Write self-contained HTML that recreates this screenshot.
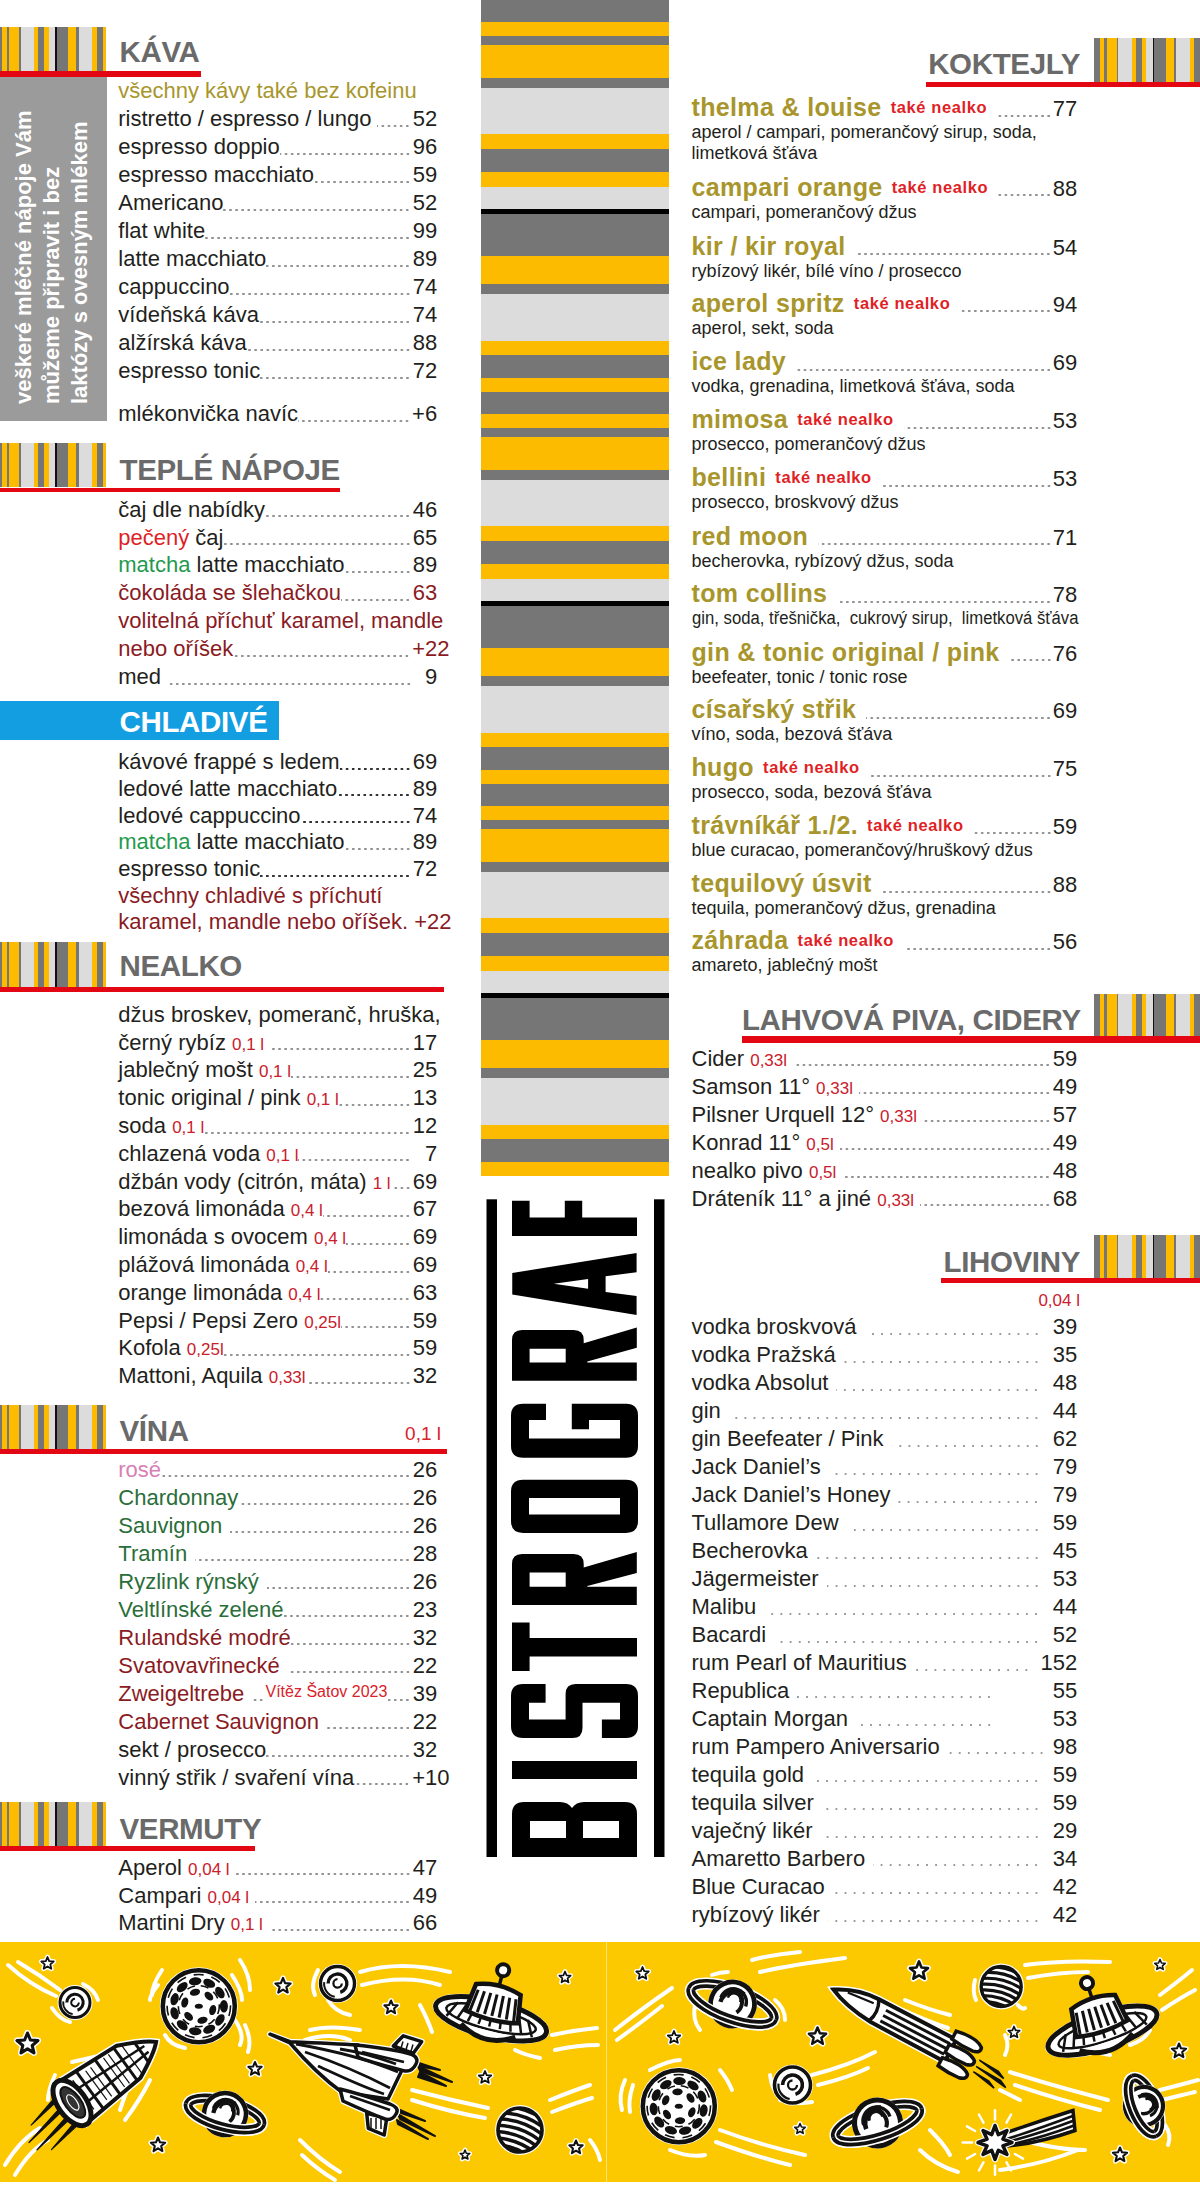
<!DOCTYPE html><html><head><meta charset="utf-8"><style>
html,body{margin:0;padding:0;background:#fff}
body{width:1200px;height:2186px;position:relative;overflow:hidden;font-family:"Liberation Sans",sans-serif;color:#231f20}
.t{position:absolute;white-space:nowrap}
.r{position:absolute;display:flex;white-space:nowrap}
.r>span.d{flex:1 1 auto}
</style></head><body>
<div style="position:absolute;left:0px;top:27.30px;width:106.30px;height:44.00px;background:linear-gradient(90deg,#767676 0.00px 2.30px,#fdbb00 2.30px 6.90px,#767676 6.90px 9.20px,#fdbb00 9.20px 18.80px,#767676 18.80px 20.90px,#dcdcdc 20.90px 34.40px,#fdbb00 34.40px 38.50px,#767676 38.50px 44.50px,#fdbb00 44.50px 49.00px,#dcdcdc 49.00px 55.00px,#111 55.00px 56.80px,#767676 56.80px 68.30px,#fdbb00 68.30px 76.50px,#767676 76.50px 78.80px,#dcdcdc 78.80px 92.10px,#fdbb00 92.10px 96.70px,#767676 96.70px 102.70px,#fdbb00 102.70px 106.30px)"></div>
<div style="position:absolute;left:0.00px;top:71.30px;width:201.00px;height:5.50px;background:#e30613;"></div>
<div class="t" style="left:119.50px;top:34.88px;font-size:29.5px;line-height:34px;color:#6a6a6a;font-weight:bold;letter-spacing:-0.35px;">KÁVA</div>
<div style="position:absolute;left:0.00px;top:76.80px;width:106.50px;height:343.80px;background:#9b9b9b;"></div>
<div style="position:absolute;left:32.10px;top:404.2px;width:0;height:0"><div style="position:absolute;left:0;top:0;transform:rotate(-90deg);transform-origin:0 0"><div class="t" style="left:0;top:-21.62px;font-size:22px;line-height:28px;color:#fff;font-weight:bold">veškeré mléčné nápoje Vám</div></div></div>
<div style="position:absolute;left:60.00px;top:404.2px;width:0;height:0"><div style="position:absolute;left:0;top:0;transform:rotate(-90deg);transform-origin:0 0"><div class="t" style="left:0;top:-21.62px;font-size:22px;line-height:28px;color:#fff;font-weight:bold">můžeme připravit i bez</div></div></div>
<div style="position:absolute;left:88.00px;top:404.2px;width:0;height:0"><div style="position:absolute;left:0;top:0;transform:rotate(-90deg);transform-origin:0 0"><div class="t" style="left:0;top:-21.62px;font-size:22px;line-height:28px;color:#fff;font-weight:bold">laktózy s ovesným mlékem</div></div></div>
<div class="t" style="left:118.30px;top:76.68px;font-size:22px;line-height:28px;color:#a8962c;">všechny kávy také bez kofeinu</div>
<div class="r" style="left:118.30px;top:104.98px;width:318.90px;height:28px;line-height:28px;font-size:22px;"><span style="color:#231f20;">ristretto / espresso / lungo</span><span class="d" style="background-image:radial-gradient(circle at center,#8c8c8c 0.95px,transparent 1.30px);background-size:6.1px 4px;background-repeat:repeat-x;background-position:right 0 top 18.62px;margin-left:6px;margin-right:2px"></span><span style="color:#231f20;">52</span></div>
<div class="r" style="left:118.30px;top:132.98px;width:318.90px;height:28px;line-height:28px;font-size:22px;"><span style="color:#231f20;">espresso doppio</span><span class="d" style="background-image:radial-gradient(circle at center,#8c8c8c 0.95px,transparent 1.30px);background-size:6.1px 4px;background-repeat:repeat-x;background-position:right 0 top 18.62px;margin-left:0px;margin-right:2px"></span><span style="color:#231f20;">96</span></div>
<div class="r" style="left:118.30px;top:160.98px;width:318.90px;height:28px;line-height:28px;font-size:22px;"><span style="color:#231f20;">espresso macchiato</span><span class="d" style="background-image:radial-gradient(circle at center,#8c8c8c 0.95px,transparent 1.30px);background-size:6.1px 4px;background-repeat:repeat-x;background-position:right 0 top 18.62px;margin-left:0px;margin-right:2px"></span><span style="color:#231f20;">59</span></div>
<div class="r" style="left:118.30px;top:188.98px;width:318.90px;height:28px;line-height:28px;font-size:22px;"><span style="color:#231f20;">Americano</span><span class="d" style="background-image:radial-gradient(circle at center,#8c8c8c 0.95px,transparent 1.30px);background-size:6.1px 4px;background-repeat:repeat-x;background-position:right 0 top 18.62px;margin-left:0px;margin-right:2px"></span><span style="color:#231f20;">52</span></div>
<div class="r" style="left:118.30px;top:216.98px;width:318.90px;height:28px;line-height:28px;font-size:22px;"><span style="color:#231f20;">flat white</span><span class="d" style="background-image:radial-gradient(circle at center,#8c8c8c 0.95px,transparent 1.30px);background-size:6.1px 4px;background-repeat:repeat-x;background-position:right 0 top 18.62px;margin-left:0px;margin-right:2px"></span><span style="color:#231f20;">99</span></div>
<div class="r" style="left:118.30px;top:244.98px;width:318.90px;height:28px;line-height:28px;font-size:22px;"><span style="color:#231f20;">latte macchiato</span><span class="d" style="background-image:radial-gradient(circle at center,#8c8c8c 0.95px,transparent 1.30px);background-size:6.1px 4px;background-repeat:repeat-x;background-position:right 0 top 18.62px;margin-left:0px;margin-right:2px"></span><span style="color:#231f20;">89</span></div>
<div class="r" style="left:118.30px;top:272.98px;width:318.90px;height:28px;line-height:28px;font-size:22px;"><span style="color:#231f20;">cappuccino</span><span class="d" style="background-image:radial-gradient(circle at center,#8c8c8c 0.95px,transparent 1.30px);background-size:6.1px 4px;background-repeat:repeat-x;background-position:right 0 top 18.62px;margin-left:0px;margin-right:2px"></span><span style="color:#231f20;">74</span></div>
<div class="r" style="left:118.30px;top:300.98px;width:318.90px;height:28px;line-height:28px;font-size:22px;"><span style="color:#231f20;">vídeňská káva</span><span class="d" style="background-image:radial-gradient(circle at center,#8c8c8c 0.95px,transparent 1.30px);background-size:6.1px 4px;background-repeat:repeat-x;background-position:right 0 top 18.62px;margin-left:0px;margin-right:2px"></span><span style="color:#231f20;">74</span></div>
<div class="r" style="left:118.30px;top:328.98px;width:318.90px;height:28px;line-height:28px;font-size:22px;"><span style="color:#231f20;">alžírská káva</span><span class="d" style="background-image:radial-gradient(circle at center,#8c8c8c 0.95px,transparent 1.30px);background-size:6.1px 4px;background-repeat:repeat-x;background-position:right 0 top 18.62px;margin-left:0px;margin-right:2px"></span><span style="color:#231f20;">88</span></div>
<div class="r" style="left:118.30px;top:356.98px;width:318.90px;height:28px;line-height:28px;font-size:22px;"><span style="color:#231f20;">espresso tonic</span><span class="d" style="background-image:radial-gradient(circle at center,#8c8c8c 0.95px,transparent 1.30px);background-size:6.1px 4px;background-repeat:repeat-x;background-position:right 0 top 18.62px;margin-left:0px;margin-right:2px"></span><span style="color:#231f20;">72</span></div>
<div class="r" style="left:118.30px;top:400.08px;width:318.90px;height:28px;line-height:28px;font-size:22px;"><span style="color:#231f20;">mlékonvička navíc</span><span class="d" style="background-image:radial-gradient(circle at center,#8c8c8c 0.95px,transparent 1.30px);background-size:6.1px 4px;background-repeat:repeat-x;background-position:right 0 top 18.62px;margin-left:0px;margin-right:2px"></span><span style="color:#231f20;">+6</span></div>
<div style="position:absolute;left:0px;top:443.40px;width:106.30px;height:44.10px;background:linear-gradient(90deg,#767676 0.00px 2.30px,#fdbb00 2.30px 6.90px,#767676 6.90px 9.20px,#fdbb00 9.20px 18.80px,#767676 18.80px 20.90px,#dcdcdc 20.90px 34.40px,#fdbb00 34.40px 38.50px,#767676 38.50px 44.50px,#fdbb00 44.50px 49.00px,#dcdcdc 49.00px 55.00px,#111 55.00px 56.80px,#767676 56.80px 68.30px,#fdbb00 68.30px 76.50px,#767676 76.50px 78.80px,#dcdcdc 78.80px 92.10px,#fdbb00 92.10px 96.70px,#767676 96.70px 102.70px,#fdbb00 102.70px 106.30px)"></div>
<div style="position:absolute;left:0.00px;top:487.50px;width:340.00px;height:4.70px;background:#e30613;"></div>
<div class="t" style="left:119.50px;top:453.38px;font-size:29.5px;line-height:34px;color:#6a6a6a;font-weight:bold;letter-spacing:-0.35px;">TEPLÉ NÁPOJE</div>
<div class="r" style="left:118.30px;top:495.58px;width:318.90px;height:28px;line-height:28px;font-size:22px;"><span style="color:#231f20;">čaj dle nabídky</span><span class="d" style="background-image:radial-gradient(circle at center,#8c8c8c 0.95px,transparent 1.30px);background-size:6.1px 4px;background-repeat:repeat-x;background-position:right 0 top 18.62px;margin-left:0px;margin-right:2px"></span><span style="color:#231f20;">46</span></div>
<div class="r" style="left:118.30px;top:523.51px;width:318.90px;height:28px;line-height:28px;font-size:22px;"><span style="color:#231f20;"><span style="color:#e01f26">pečený</span> čaj</span><span class="d" style="background-image:radial-gradient(circle at center,#8c8c8c 0.95px,transparent 1.30px);background-size:6.1px 4px;background-repeat:repeat-x;background-position:right 0 top 18.62px;margin-left:0px;margin-right:2px"></span><span style="color:#231f20;">65</span></div>
<div class="r" style="left:118.30px;top:551.44px;width:318.90px;height:28px;line-height:28px;font-size:22px;"><span style="color:#231f20;"><span style="color:#1f9a4e">matcha</span> latte macchiato</span><span class="d" style="background-image:radial-gradient(circle at center,#8c8c8c 0.95px,transparent 1.30px);background-size:6.1px 4px;background-repeat:repeat-x;background-position:right 0 top 18.62px;margin-left:0px;margin-right:2px"></span><span style="color:#231f20;">89</span></div>
<div class="r" style="left:118.30px;top:579.37px;width:318.90px;height:28px;line-height:28px;font-size:22px;"><span style="color:#8a1b1f;">čokoláda se šlehačkou</span><span class="d" style="background-image:radial-gradient(circle at center,#8c8c8c 0.95px,transparent 1.30px);background-size:6.1px 4px;background-repeat:repeat-x;background-position:right 0 top 18.62px;margin-left:0px;margin-right:2px"></span><span style="color:#8a1b1f;">63</span></div>
<div class="t" style="left:118.30px;top:607.30px;font-size:22px;line-height:28px;color:#8a1b1f;">volitelná příchuť karamel, mandle</div>
<div class="r" style="left:118.30px;top:635.23px;width:331.20px;height:28px;line-height:28px;font-size:22px;"><span style="color:#8a1b1f;">nebo oříšek</span><span class="d" style="background-image:radial-gradient(circle at center,#8c8c8c 0.95px,transparent 1.30px);background-size:6.1px 4px;background-repeat:repeat-x;background-position:right 0 top 18.62px;margin-left:0px;margin-right:2px"></span><span style="color:#8a1b1f;">+22</span></div>
<div class="r" style="left:118.30px;top:663.16px;width:318.90px;height:28px;line-height:28px;font-size:22px;"><span style="color:#231f20;">med</span><span class="d" style="background-image:radial-gradient(circle at center,#8c8c8c 0.95px,transparent 1.30px);background-size:6.1px 4px;background-repeat:repeat-x;background-position:right 0 top 18.62px;margin-left:8px;margin-right:13px"></span><span style="color:#231f20;">9</span></div>
<div style="position:absolute;left:0.00px;top:701.40px;width:279.00px;height:39.10px;background:#139ee2;"></div>
<div class="t" style="left:119.50px;top:705.28px;font-size:29.5px;line-height:34px;color:#fff;font-weight:bold;letter-spacing:-0.35px;">CHLADIVÉ</div>
<div class="r" style="left:118.30px;top:748.08px;width:318.90px;height:28px;line-height:28px;font-size:22px;"><span style="color:#231f20;">kávové frappé s ledem</span><span class="d" style="background-image:radial-gradient(circle at center,#333 1.1px,transparent 1.45px);background-size:6.1px 4px;background-repeat:repeat-x;background-position:right 0 top 18.62px;margin-left:0px;margin-right:2px"></span><span style="color:#231f20;">69</span></div>
<div class="r" style="left:118.30px;top:774.80px;width:318.90px;height:28px;line-height:28px;font-size:22px;"><span style="color:#231f20;">ledové latte macchiato</span><span class="d" style="background-image:radial-gradient(circle at center,#333 1.1px,transparent 1.45px);background-size:6.1px 4px;background-repeat:repeat-x;background-position:right 0 top 18.62px;margin-left:0px;margin-right:2px"></span><span style="color:#231f20;">89</span></div>
<div class="r" style="left:118.30px;top:801.52px;width:318.90px;height:28px;line-height:28px;font-size:22px;"><span style="color:#231f20;">ledové cappuccino</span><span class="d" style="background-image:radial-gradient(circle at center,#333 1.1px,transparent 1.45px);background-size:6.1px 4px;background-repeat:repeat-x;background-position:right 0 top 18.62px;margin-left:0px;margin-right:2px"></span><span style="color:#231f20;">74</span></div>
<div class="r" style="left:118.30px;top:828.24px;width:318.90px;height:28px;line-height:28px;font-size:22px;"><span style="color:#231f20;"><span style="color:#1f9a4e">matcha</span> latte macchiato</span><span class="d" style="background-image:radial-gradient(circle at center,#8c8c8c 0.95px,transparent 1.30px);background-size:6.1px 4px;background-repeat:repeat-x;background-position:right 0 top 18.62px;margin-left:0px;margin-right:2px"></span><span style="color:#231f20;">89</span></div>
<div class="r" style="left:118.30px;top:854.96px;width:318.90px;height:28px;line-height:28px;font-size:22px;"><span style="color:#231f20;">espresso tonic</span><span class="d" style="background-image:radial-gradient(circle at center,#333 1.1px,transparent 1.45px);background-size:6.1px 4px;background-repeat:repeat-x;background-position:right 0 top 18.62px;margin-left:0px;margin-right:2px"></span><span style="color:#231f20;">72</span></div>
<div class="t" style="left:118.30px;top:881.68px;font-size:22px;line-height:28px;color:#8a1b1f;">všechny chladivé s příchutí</div>
<div class="t" style="left:118.30px;top:908.40px;font-size:22px;line-height:28px;color:#8a1b1f;">karamel, mandle nebo oříšek. +22</div>
<div style="position:absolute;left:0px;top:942.00px;width:106.30px;height:44.50px;background:linear-gradient(90deg,#767676 0.00px 2.30px,#fdbb00 2.30px 6.90px,#767676 6.90px 9.20px,#fdbb00 9.20px 18.80px,#767676 18.80px 20.90px,#dcdcdc 20.90px 34.40px,#fdbb00 34.40px 38.50px,#767676 38.50px 44.50px,#fdbb00 44.50px 49.00px,#dcdcdc 49.00px 55.00px,#111 55.00px 56.80px,#767676 56.80px 68.30px,#fdbb00 68.30px 76.50px,#767676 76.50px 78.80px,#dcdcdc 78.80px 92.10px,#fdbb00 92.10px 96.70px,#767676 96.70px 102.70px,#fdbb00 102.70px 106.30px)"></div>
<div style="position:absolute;left:0.00px;top:986.50px;width:443.50px;height:5.50px;background:#e30613;"></div>
<div class="t" style="left:119.50px;top:949.38px;font-size:29.5px;line-height:34px;color:#6a6a6a;font-weight:bold;letter-spacing:-0.35px;">NEALKO</div>
<div class="t" style="left:118.30px;top:1000.88px;font-size:22px;line-height:28px;color:#231f20;">džus broskev, pomeranč, hruška,</div>
<div class="r" style="left:118.30px;top:1028.68px;width:318.90px;height:28px;line-height:28px;font-size:22px;"><span style="color:#231f20;">černý rybíz <span style="font-size:17px;color:#c9202c;line-height:0">0,1 l</span></span><span class="d" style="background-image:radial-gradient(circle at center,#8c8c8c 0.95px,transparent 1.30px);background-size:6.1px 4px;background-repeat:repeat-x;background-position:right 0 top 18.62px;margin-left:6px;margin-right:2px"></span><span style="color:#231f20;">17</span></div>
<div class="r" style="left:118.30px;top:1056.48px;width:318.90px;height:28px;line-height:28px;font-size:22px;"><span style="color:#231f20;">jablečný mošt <span style="font-size:17px;color:#c9202c;line-height:0">0,1 l</span></span><span class="d" style="background-image:radial-gradient(circle at center,#8c8c8c 0.95px,transparent 1.30px);background-size:6.1px 4px;background-repeat:repeat-x;background-position:right 0 top 18.62px;margin-left:0px;margin-right:2px"></span><span style="color:#231f20;">25</span></div>
<div class="r" style="left:118.30px;top:1084.28px;width:318.90px;height:28px;line-height:28px;font-size:22px;"><span style="color:#231f20;">tonic original / pink <span style="font-size:17px;color:#c9202c;line-height:0">0,1 l</span></span><span class="d" style="background-image:radial-gradient(circle at center,#8c8c8c 0.95px,transparent 1.30px);background-size:6.1px 4px;background-repeat:repeat-x;background-position:right 0 top 18.62px;margin-left:0px;margin-right:2px"></span><span style="color:#231f20;">13</span></div>
<div class="r" style="left:118.30px;top:1112.08px;width:318.90px;height:28px;line-height:28px;font-size:22px;"><span style="color:#231f20;">soda <span style="font-size:17px;color:#c9202c;line-height:0">0,1 l</span></span><span class="d" style="background-image:radial-gradient(circle at center,#8c8c8c 0.95px,transparent 1.30px);background-size:6.1px 4px;background-repeat:repeat-x;background-position:right 0 top 18.62px;margin-left:0px;margin-right:2px"></span><span style="color:#231f20;">12</span></div>
<div class="r" style="left:118.30px;top:1139.88px;width:318.90px;height:28px;line-height:28px;font-size:22px;"><span style="color:#231f20;">chlazená voda <span style="font-size:17px;color:#c9202c;line-height:0">0,1 l</span></span><span class="d" style="background-image:radial-gradient(circle at center,#8c8c8c 0.95px,transparent 1.30px);background-size:6.1px 4px;background-repeat:repeat-x;background-position:right 0 top 18.62px;margin-left:0px;margin-right:14px"></span><span style="color:#231f20;">7</span></div>
<div class="r" style="left:118.30px;top:1167.68px;width:318.90px;height:28px;line-height:28px;font-size:22px;"><span style="color:#231f20;">džbán vody (citrón, máta) <span style="font-size:17px;color:#c9202c;line-height:0">1 l</span></span><span class="d" style="background-image:radial-gradient(circle at center,#8c8c8c 0.95px,transparent 1.30px);background-size:6.1px 4px;background-repeat:repeat-x;background-position:right 0 top 18.62px;margin-left:0px;margin-right:2px"></span><span style="color:#231f20;">69</span></div>
<div class="r" style="left:118.30px;top:1195.48px;width:318.90px;height:28px;line-height:28px;font-size:22px;"><span style="color:#231f20;">bezová limonáda <span style="font-size:17px;color:#c9202c;line-height:0">0,4 l</span></span><span class="d" style="background-image:radial-gradient(circle at center,#8c8c8c 0.95px,transparent 1.30px);background-size:6.1px 4px;background-repeat:repeat-x;background-position:right 0 top 18.62px;margin-left:0px;margin-right:2px"></span><span style="color:#231f20;">67</span></div>
<div class="r" style="left:118.30px;top:1223.28px;width:318.90px;height:28px;line-height:28px;font-size:22px;"><span style="color:#231f20;">limonáda s ovocem <span style="font-size:17px;color:#c9202c;line-height:0">0,4 l</span></span><span class="d" style="background-image:radial-gradient(circle at center,#8c8c8c 0.95px,transparent 1.30px);background-size:6.1px 4px;background-repeat:repeat-x;background-position:right 0 top 18.62px;margin-left:0px;margin-right:2px"></span><span style="color:#231f20;">69</span></div>
<div class="r" style="left:118.30px;top:1251.08px;width:318.90px;height:28px;line-height:28px;font-size:22px;"><span style="color:#231f20;">plážová limonáda <span style="font-size:17px;color:#c9202c;line-height:0">0,4 l</span></span><span class="d" style="background-image:radial-gradient(circle at center,#8c8c8c 0.95px,transparent 1.30px);background-size:6.1px 4px;background-repeat:repeat-x;background-position:right 0 top 18.62px;margin-left:0px;margin-right:2px"></span><span style="color:#231f20;">69</span></div>
<div class="r" style="left:118.30px;top:1278.88px;width:318.90px;height:28px;line-height:28px;font-size:22px;"><span style="color:#231f20;">orange limonáda <span style="font-size:17px;color:#c9202c;line-height:0">0,4 l</span></span><span class="d" style="background-image:radial-gradient(circle at center,#8c8c8c 0.95px,transparent 1.30px);background-size:6.1px 4px;background-repeat:repeat-x;background-position:right 0 top 18.62px;margin-left:0px;margin-right:2px"></span><span style="color:#231f20;">63</span></div>
<div class="r" style="left:118.30px;top:1306.68px;width:318.90px;height:28px;line-height:28px;font-size:22px;"><span style="color:#231f20;">Pepsi / Pepsi Zero <span style="font-size:17px;color:#c9202c;line-height:0">0,25l</span></span><span class="d" style="background-image:radial-gradient(circle at center,#8c8c8c 0.95px,transparent 1.30px);background-size:6.1px 4px;background-repeat:repeat-x;background-position:right 0 top 18.62px;margin-left:0px;margin-right:2px"></span><span style="color:#231f20;">59</span></div>
<div class="r" style="left:118.30px;top:1334.48px;width:318.90px;height:28px;line-height:28px;font-size:22px;"><span style="color:#231f20;">Kofola <span style="font-size:17px;color:#c9202c;line-height:0">0,25l</span></span><span class="d" style="background-image:radial-gradient(circle at center,#8c8c8c 0.95px,transparent 1.30px);background-size:6.1px 4px;background-repeat:repeat-x;background-position:right 0 top 18.62px;margin-left:0px;margin-right:2px"></span><span style="color:#231f20;">59</span></div>
<div class="r" style="left:118.30px;top:1362.28px;width:318.90px;height:28px;line-height:28px;font-size:22px;"><span style="color:#231f20;">Mattoni, Aquila <span style="font-size:17px;color:#c9202c;line-height:0">0,33l</span></span><span class="d" style="background-image:radial-gradient(circle at center,#8c8c8c 0.95px,transparent 1.30px);background-size:6.1px 4px;background-repeat:repeat-x;background-position:right 0 top 18.62px;margin-left:0px;margin-right:2px"></span><span style="color:#231f20;">32</span></div>
<div style="position:absolute;left:0px;top:1404.60px;width:106.30px;height:44.00px;background:linear-gradient(90deg,#767676 0.00px 2.30px,#fdbb00 2.30px 6.90px,#767676 6.90px 9.20px,#fdbb00 9.20px 18.80px,#767676 18.80px 20.90px,#dcdcdc 20.90px 34.40px,#fdbb00 34.40px 38.50px,#767676 38.50px 44.50px,#fdbb00 44.50px 49.00px,#dcdcdc 49.00px 55.00px,#111 55.00px 56.80px,#767676 56.80px 68.30px,#fdbb00 68.30px 76.50px,#767676 76.50px 78.80px,#dcdcdc 78.80px 92.10px,#fdbb00 92.10px 96.70px,#767676 96.70px 102.70px,#fdbb00 102.70px 106.30px)"></div>
<div style="position:absolute;left:0.00px;top:1448.60px;width:446.60px;height:5.00px;background:#e30613;"></div>
<div class="t" style="left:119.50px;top:1414.18px;font-size:29.5px;line-height:34px;color:#6a6a6a;font-weight:bold;letter-spacing:-0.35px;">VÍNA</div>
<div class="t" style="right:759.00px;top:1422.02px;font-size:19px;line-height:24px;color:#d9222a;">0,1 l</div>
<div class="r" style="left:118.30px;top:1455.68px;width:318.90px;height:28px;line-height:28px;font-size:22px;"><span style="color:#d77fb6;">rosé</span><span class="d" style="background-image:radial-gradient(circle at center,#8c8c8c 0.95px,transparent 1.30px);background-size:6.1px 4px;background-repeat:repeat-x;background-position:right 0 top 18.62px;margin-left:0px;margin-right:2px"></span><span style="color:#231f20;">26</span></div>
<div class="r" style="left:118.30px;top:1483.68px;width:318.90px;height:28px;line-height:28px;font-size:22px;"><span style="color:#2a6e3a;">Chardonnay</span><span class="d" style="background-image:radial-gradient(circle at center,#8c8c8c 0.95px,transparent 1.30px);background-size:6.1px 4px;background-repeat:repeat-x;background-position:right 0 top 18.62px;margin-left:0px;margin-right:2px"></span><span style="color:#231f20;">26</span></div>
<div class="r" style="left:118.30px;top:1511.68px;width:318.90px;height:28px;line-height:28px;font-size:22px;"><span style="color:#2a6e3a;">Sauvignon</span><span class="d" style="background-image:radial-gradient(circle at center,#8c8c8c 0.95px,transparent 1.30px);background-size:6.1px 4px;background-repeat:repeat-x;background-position:right 0 top 18.62px;margin-left:8px;margin-right:2px"></span><span style="color:#231f20;">26</span></div>
<div class="r" style="left:118.30px;top:1539.68px;width:318.90px;height:28px;line-height:28px;font-size:22px;"><span style="color:#2a6e3a;">Tramín</span><span class="d" style="background-image:radial-gradient(circle at center,#8c8c8c 0.95px,transparent 1.30px);background-size:6.1px 4px;background-repeat:repeat-x;background-position:right 0 top 18.62px;margin-left:8px;margin-right:2px"></span><span style="color:#231f20;">28</span></div>
<div class="r" style="left:118.30px;top:1567.68px;width:318.90px;height:28px;line-height:28px;font-size:22px;"><span style="color:#2a6e3a;">Ryzlink rýnský</span><span class="d" style="background-image:radial-gradient(circle at center,#8c8c8c 0.95px,transparent 1.30px);background-size:6.1px 4px;background-repeat:repeat-x;background-position:right 0 top 18.62px;margin-left:8px;margin-right:2px"></span><span style="color:#231f20;">26</span></div>
<div class="r" style="left:118.30px;top:1595.68px;width:318.90px;height:28px;line-height:28px;font-size:22px;"><span style="color:#2a6e3a;">Veltlínské zelené</span><span class="d" style="background-image:radial-gradient(circle at center,#8c8c8c 0.95px,transparent 1.30px);background-size:6.1px 4px;background-repeat:repeat-x;background-position:right 0 top 18.62px;margin-left:0px;margin-right:2px"></span><span style="color:#231f20;">23</span></div>
<div class="r" style="left:118.30px;top:1623.68px;width:318.90px;height:28px;line-height:28px;font-size:22px;"><span style="color:#8a1b1f;">Rulandské modré</span><span class="d" style="background-image:radial-gradient(circle at center,#8c8c8c 0.95px,transparent 1.30px);background-size:6.1px 4px;background-repeat:repeat-x;background-position:right 0 top 18.62px;margin-left:0px;margin-right:2px"></span><span style="color:#231f20;">32</span></div>
<div class="r" style="left:118.30px;top:1651.68px;width:318.90px;height:28px;line-height:28px;font-size:22px;"><span style="color:#8a1b1f;">Svatovavřinecké</span><span class="d" style="background-image:radial-gradient(circle at center,#8c8c8c 0.95px,transparent 1.30px);background-size:6.1px 4px;background-repeat:repeat-x;background-position:right 0 top 18.62px;margin-left:8px;margin-right:2px"></span><span style="color:#231f20;">22</span></div>
<div class="r" style="left:118.30px;top:1679.68px;width:318.90px;height:28px;line-height:28px;font-size:22px;"><span style="color:#8a1b1f;">Zweigeltrebe</span><span class="d" style="background-image:radial-gradient(circle at center,#8c8c8c 0.95px,transparent 1.30px);background-size:6.1px 4px;background-repeat:repeat-x;background-position:right 0 top 18.62px;margin-left:8px;margin-right:2px"></span><span style="color:#231f20;">39</span></div>
<div class="r" style="left:118.30px;top:1707.68px;width:318.90px;height:28px;line-height:28px;font-size:22px;"><span style="color:#8a1b1f;">Cabernet Sauvignon</span><span class="d" style="background-image:radial-gradient(circle at center,#8c8c8c 0.95px,transparent 1.30px);background-size:6.1px 4px;background-repeat:repeat-x;background-position:right 0 top 18.62px;margin-left:8px;margin-right:2px"></span><span style="color:#231f20;">22</span></div>
<div class="r" style="left:118.30px;top:1735.68px;width:318.90px;height:28px;line-height:28px;font-size:22px;"><span style="color:#231f20;">sekt / prosecco</span><span class="d" style="background-image:radial-gradient(circle at center,#8c8c8c 0.95px,transparent 1.30px);background-size:6.1px 4px;background-repeat:repeat-x;background-position:right 0 top 18.62px;margin-left:0px;margin-right:2px"></span><span style="color:#231f20;">32</span></div>
<div class="r" style="left:118.30px;top:1763.68px;width:331.20px;height:28px;line-height:28px;font-size:22px;"><span style="color:#231f20;">vinný střik / svaření vína</span><span class="d" style="background-image:radial-gradient(circle at center,#8c8c8c 0.95px,transparent 1.30px);background-size:6.1px 4px;background-repeat:repeat-x;background-position:right 0 top 18.62px;margin-left:0px;margin-right:2px"></span><span style="color:#231f20;">+10</span></div>
<div class="t" style="left:264.50px;top:1681.66px;font-size:16px;line-height:20px;color:#d9222a;background:#fff;padding:0 1px">Vítěz Šatov 2023</div>
<div style="position:absolute;left:0px;top:1801.60px;width:106.30px;height:44.10px;background:linear-gradient(90deg,#767676 0.00px 2.30px,#fdbb00 2.30px 6.90px,#767676 6.90px 9.20px,#fdbb00 9.20px 18.80px,#767676 18.80px 20.90px,#dcdcdc 20.90px 34.40px,#fdbb00 34.40px 38.50px,#767676 38.50px 44.50px,#fdbb00 44.50px 49.00px,#dcdcdc 49.00px 55.00px,#111 55.00px 56.80px,#767676 56.80px 68.30px,#fdbb00 68.30px 76.50px,#767676 76.50px 78.80px,#dcdcdc 78.80px 92.10px,#fdbb00 92.10px 96.70px,#767676 96.70px 102.70px,#fdbb00 102.70px 106.30px)"></div>
<div style="position:absolute;left:0.00px;top:1845.70px;width:255.00px;height:4.90px;background:#e30613;"></div>
<div class="t" style="left:119.50px;top:1811.58px;font-size:29.5px;line-height:34px;color:#6a6a6a;font-weight:bold;letter-spacing:-0.35px;">VERMUTY</div>
<div class="r" style="left:118.30px;top:1853.68px;width:318.90px;height:28px;line-height:28px;font-size:22px;"><span style="color:#231f20;">Aperol <span style="font-size:17px;color:#c9202c;line-height:0">0,04 l</span></span><span class="d" style="background-image:radial-gradient(circle at center,#8c8c8c 0.95px,transparent 1.30px);background-size:6.1px 4px;background-repeat:repeat-x;background-position:right 0 top 18.62px;margin-left:6px;margin-right:2px"></span><span style="color:#231f20;">47</span></div>
<div class="r" style="left:118.30px;top:1881.53px;width:318.90px;height:28px;line-height:28px;font-size:22px;"><span style="color:#231f20;">Campari <span style="font-size:17px;color:#c9202c;line-height:0">0,04 l</span></span><span class="d" style="background-image:radial-gradient(circle at center,#8c8c8c 0.95px,transparent 1.30px);background-size:6.1px 4px;background-repeat:repeat-x;background-position:right 0 top 18.62px;margin-left:6px;margin-right:2px"></span><span style="color:#231f20;">49</span></div>
<div class="r" style="left:118.30px;top:1909.38px;width:318.90px;height:28px;line-height:28px;font-size:22px;"><span style="color:#231f20;">Martini Dry <span style="font-size:17px;color:#c9202c;line-height:0">0,1 l</span></span><span class="d" style="background-image:radial-gradient(circle at center,#8c8c8c 0.95px,transparent 1.30px);background-size:6.1px 4px;background-repeat:repeat-x;background-position:right 0 top 18.62px;margin-left:6px;margin-right:2px"></span><span style="color:#231f20;">66</span></div>
<div style="position:absolute;left:481px;top:0;width:188px;height:1176px;background:linear-gradient(180deg,#767676 0px 22px,#fdbb00 22px 36px,#767676 36px 45px,#fdbb00 45px 78px,#767676 78px 88px,#dcdcdc 88px 134px,#fdbb00 134px 149px,#767676 149px 172px,#fdbb00 172px 187px,#dcdcdc 187px 209px,#000 209px 214px,#767676 214px 256px,#fdbb00 256px 284px,#767676 284px 294px,#dcdcdc 294px 341px,#fdbb00 341px 355px,#767676 355px 378px,#fdbb00 378px 392px,#767676 392px 414px,#fdbb00 414px 428px,#767676 428px 437px,#fdbb00 437px 470px,#767676 470px 480px,#dcdcdc 480px 526px,#fdbb00 526px 541px,#767676 541px 564px,#fdbb00 564px 579px,#dcdcdc 579px 601px,#000 601px 606px,#767676 606px 648px,#fdbb00 648px 676px,#767676 676px 686px,#dcdcdc 686px 733px,#fdbb00 733px 747px,#767676 747px 770px,#fdbb00 770px 784px,#767676 784px 806px,#fdbb00 806px 820px,#767676 820px 829px,#fdbb00 829px 862px,#767676 862px 872px,#dcdcdc 872px 918px,#fdbb00 918px 933px,#767676 933px 956px,#fdbb00 956px 971px,#dcdcdc 971px 993px,#000 993px 998px,#767676 998px 1040px,#fdbb00 1040px 1068px,#767676 1068px 1078px,#dcdcdc 1078px 1125px,#fdbb00 1125px 1139px,#767676 1139px 1162px,#fdbb00 1162px 1176px)"></div>
<svg style="position:absolute;left:0;top:0" width="1200" height="2186" viewBox="0 0 1200 2186">
<g fill="#000" fill-rule="evenodd">
<rect x="486.5" y="1199.3" width="10.5" height="657.7"/>
<rect x="654" y="1199.3" width="10.5" height="657.7"/>
<!-- F -->
<path d="M512 1217.6H637V1236H512Z M512 1200.7H529.6V1217.6H512Z M564.8 1200.7H582.2V1217.6H564.8Z"/>
<!-- A -->
<path d="M512.25 1273L636.6 1253V1272.25L605.6 1276.25V1291.9L636.6 1296V1315L512.25 1294.4Z M553.75 1283.75L588.1 1279V1288.75Z"/>
<!-- R2 -->
<path d="M512 1340 Q512 1330 522 1330 H573.7 Q583.7 1330 583.7 1340 V1343.2 L636.8 1327.6 V1347.75 L587.3 1361.5 V1362.4 H636.8 V1380.75 H512Z M529.6 1348.7H565.7V1362.4H529.6Z"/>
<!-- G -->
<path d="M511 1415.7 Q511 1403.7 523 1403.7 H546 V1420 H529 V1438.5 H620 V1420 H589 V1429.3 H571.8 V1403.7 H626 Q638 1403.7 638 1415.7 V1445.8 Q638 1457.8 626 1457.8 H523 Q511 1457.8 511 1445.8Z"/>
<!-- O -->
<path d="M511 1491.7 Q511 1479.7 523 1479.7 H626 Q638 1479.7 638 1491.7 V1520.9 Q638 1532.9 626 1532.9 H523 Q511 1532.9 511 1520.9Z M529 1498H620V1514.6H529Z"/>
<!-- R1 -->
<path d="M512 1564 Q512 1554 522 1554 H573.7 Q583.7 1554 583.7 1564 V1567.5 L636.8 1551.9 V1573 L587.3 1586 V1586.7 H636.8 V1605 H512Z M529.6 1572.6H565.7V1586.7H529.6Z"/>
<!-- T -->
<path d="M512 1622.5H529.6V1638H637V1656.4H529.6V1671H512Z"/>
<!-- S -->
<path d="M511 1696 Q511 1684 523 1684 H545.6 V1702.75 H529 V1719.4 H565.6 V1694 Q565.6 1684 575.6 1684 H626 Q638 1684 638 1696 V1726 Q638 1738 626 1738 H601.9 V1719.4 H620 V1702.75 H582.5 V1728 Q582.5 1738 572.5 1738 H523 Q511 1738 511 1726Z"/>
<!-- I -->
<rect x="512" y="1761" width="125" height="18"/>
<!-- B -->
<path d="M512 1814 Q512 1802 524 1802 H560 Q568 1802 572 1808 Q576 1802 584 1802 H625 Q637 1802 637 1814 V1857 H512Z M530 1821H566V1838H530Z M583 1821H619V1838H583Z"/>
</g></svg>
<div style="position:absolute;left:1094px;top:37.80px;width:106.00px;height:44.00px;background:linear-gradient(90deg,#767676 0.00px 5.80px,#fdbb00 5.80px 10.10px,#767676 10.10px 12.90px,#fdbb00 12.90px 22.50px,#767676 22.50px 24.30px,#dcdcdc 24.30px 37.60px,#fdbb00 37.60px 42.20px,#767676 42.20px 47.70px,#fdbb00 47.70px 52.30px,#dcdcdc 52.30px 58.90px,#111 58.90px 60.50px,#767676 60.50px 71.90px,#fdbb00 71.90px 80.20px,#767676 80.20px 82.50px,#dcdcdc 82.50px 95.90px,#fdbb00 95.90px 99.90px,#767676 99.90px 106.00px)"></div>
<div style="position:absolute;left:926.00px;top:81.80px;width:274.00px;height:5.00px;background:#e30613;"></div>
<div class="t" style="right:120.00px;top:47.08px;font-size:29.5px;line-height:34px;color:#6a6a6a;font-weight:bold;letter-spacing:-0.35px;">KOKTEJLY</div>
<div class="r" style="left:691.50px;top:94.08px;width:385.80px;height:30px;line-height:30px;font-size:22px;"><span style="color:#231f20;"><span style="font-size:25px;font-weight:bold;color:#a8962c;letter-spacing:0.35px;line-height:0">thelma &amp; louise</span> <span style="color:#e01f26;font-size:16.5px;font-weight:bold;letter-spacing:0.6px;line-height:0;position:relative;top:-3px;margin-left:3px">také nealko</span></span><span class="d" style="background-image:radial-gradient(circle at center,#8c8c8c 0.95px,transparent 1.30px);background-size:6.1px 4px;background-repeat:repeat-x;background-position:right 0 top 19.62px;margin-left:10px;margin-right:1px"></span><span style="color:#231f20;">77</span></div>
<div class="t" style="left:691.50px;top:121.06px;font-size:18px;line-height:22px;color:#231f20;">aperol / campari, pomerančový sirup, soda,</div>
<div class="t" style="left:691.50px;top:141.86px;font-size:18px;line-height:22px;color:#231f20;">limetková šťáva</div>
<div class="r" style="left:691.50px;top:173.78px;width:385.80px;height:30px;line-height:30px;font-size:22px;"><span style="color:#231f20;"><span style="font-size:25px;font-weight:bold;color:#a8962c;letter-spacing:0.35px;line-height:0">campari orange</span> <span style="color:#e01f26;font-size:16.5px;font-weight:bold;letter-spacing:0.6px;line-height:0;position:relative;top:-3px;margin-left:3px">také nealko</span></span><span class="d" style="background-image:radial-gradient(circle at center,#8c8c8c 0.95px,transparent 1.30px);background-size:6.1px 4px;background-repeat:repeat-x;background-position:right 0 top 19.62px;margin-left:10px;margin-right:1px"></span><span style="color:#231f20;">88</span></div>
<div class="t" style="left:691.50px;top:200.76px;font-size:18px;line-height:22px;color:#231f20;">campari, pomerančový džus</div>
<div class="r" style="left:691.50px;top:232.68px;width:385.80px;height:30px;line-height:30px;font-size:22px;"><span style="color:#231f20;"><span style="font-size:25px;font-weight:bold;color:#a8962c;letter-spacing:0.35px;line-height:0">kir / kir royal</span></span><span class="d" style="background-image:radial-gradient(circle at center,#8c8c8c 0.95px,transparent 1.30px);background-size:6.1px 4px;background-repeat:repeat-x;background-position:right 0 top 19.62px;margin-left:10px;margin-right:1px"></span><span style="color:#231f20;">54</span></div>
<div class="t" style="left:691.50px;top:259.66px;font-size:18px;line-height:22px;color:#231f20;">rybízový likér, bílé víno / prosecco</div>
<div class="r" style="left:691.50px;top:289.88px;width:385.80px;height:30px;line-height:30px;font-size:22px;"><span style="color:#231f20;"><span style="font-size:25px;font-weight:bold;color:#a8962c;letter-spacing:0.35px;line-height:0">aperol spritz</span> <span style="color:#e01f26;font-size:16.5px;font-weight:bold;letter-spacing:0.6px;line-height:0;position:relative;top:-3px;margin-left:3px">také nealko</span></span><span class="d" style="background-image:radial-gradient(circle at center,#8c8c8c 0.95px,transparent 1.30px);background-size:6.1px 4px;background-repeat:repeat-x;background-position:right 0 top 19.62px;margin-left:10px;margin-right:1px"></span><span style="color:#231f20;">94</span></div>
<div class="t" style="left:691.50px;top:316.86px;font-size:18px;line-height:22px;color:#231f20;">aperol, sekt, soda</div>
<div class="r" style="left:691.50px;top:348.28px;width:385.80px;height:30px;line-height:30px;font-size:22px;"><span style="color:#231f20;"><span style="font-size:25px;font-weight:bold;color:#a8962c;letter-spacing:0.35px;line-height:0">ice lady</span></span><span class="d" style="background-image:radial-gradient(circle at center,#8c8c8c 0.95px,transparent 1.30px);background-size:6.1px 4px;background-repeat:repeat-x;background-position:right 0 top 19.62px;margin-left:10px;margin-right:1px"></span><span style="color:#231f20;">69</span></div>
<div class="t" style="left:691.50px;top:375.26px;font-size:18px;line-height:22px;color:#231f20;">vodka, grenadina, limetková šťáva, soda</div>
<div class="r" style="left:691.50px;top:406.38px;width:385.80px;height:30px;line-height:30px;font-size:22px;"><span style="color:#231f20;"><span style="font-size:25px;font-weight:bold;color:#a8962c;letter-spacing:0.35px;line-height:0">mimosa</span> <span style="color:#e01f26;font-size:16.5px;font-weight:bold;letter-spacing:0.6px;line-height:0;position:relative;top:-3px;margin-left:3px">také nealko</span></span><span class="d" style="background-image:radial-gradient(circle at center,#8c8c8c 0.95px,transparent 1.30px);background-size:6.1px 4px;background-repeat:repeat-x;background-position:right 0 top 19.62px;margin-left:10px;margin-right:1px"></span><span style="color:#231f20;">53</span></div>
<div class="t" style="left:691.50px;top:433.36px;font-size:18px;line-height:22px;color:#231f20;">prosecco, pomerančový džus</div>
<div class="r" style="left:691.50px;top:464.13px;width:385.80px;height:30px;line-height:30px;font-size:22px;"><span style="color:#231f20;"><span style="font-size:25px;font-weight:bold;color:#a8962c;letter-spacing:0.35px;line-height:0">bellini</span> <span style="color:#e01f26;font-size:16.5px;font-weight:bold;letter-spacing:0.6px;line-height:0;position:relative;top:-3px;margin-left:3px">také nealko</span></span><span class="d" style="background-image:radial-gradient(circle at center,#8c8c8c 0.95px,transparent 1.30px);background-size:6.1px 4px;background-repeat:repeat-x;background-position:right 0 top 19.62px;margin-left:10px;margin-right:1px"></span><span style="color:#231f20;">53</span></div>
<div class="t" style="left:691.50px;top:491.11px;font-size:18px;line-height:22px;color:#231f20;">prosecco, broskvový džus</div>
<div class="r" style="left:691.50px;top:522.58px;width:385.80px;height:30px;line-height:30px;font-size:22px;"><span style="color:#231f20;"><span style="font-size:25px;font-weight:bold;color:#a8962c;letter-spacing:0.35px;line-height:0">red moon</span></span><span class="d" style="background-image:radial-gradient(circle at center,#8c8c8c 0.95px,transparent 1.30px);background-size:6.1px 4px;background-repeat:repeat-x;background-position:right 0 top 19.62px;margin-left:10px;margin-right:1px"></span><span style="color:#231f20;">71</span></div>
<div class="t" style="left:691.50px;top:549.56px;font-size:18px;line-height:22px;color:#231f20;">becherovka, rybízový džus, soda</div>
<div class="r" style="left:691.50px;top:580.33px;width:385.80px;height:30px;line-height:30px;font-size:22px;"><span style="color:#231f20;"><span style="font-size:25px;font-weight:bold;color:#a8962c;letter-spacing:0.35px;line-height:0">tom collins</span></span><span class="d" style="background-image:radial-gradient(circle at center,#8c8c8c 0.95px,transparent 1.30px);background-size:6.1px 4px;background-repeat:repeat-x;background-position:right 0 top 19.62px;margin-left:10px;margin-right:1px"></span><span style="color:#231f20;">78</span></div>
<div class="t" style="left:691.50px;top:607.31px;font-size:18px;line-height:22px;color:#231f20;transform:scaleX(0.927);transform-origin:0 0">gin, soda, třešnička,&nbsp; cukrový sirup,&nbsp; limetková šťáva</div>
<div class="r" style="left:691.50px;top:638.78px;width:385.80px;height:30px;line-height:30px;font-size:22px;"><span style="color:#231f20;"><span style="font-size:25px;font-weight:bold;color:#a8962c;letter-spacing:0.35px;line-height:0">gin &amp; tonic original / pink</span></span><span class="d" style="background-image:radial-gradient(circle at center,#8c8c8c 0.95px,transparent 1.30px);background-size:6.1px 4px;background-repeat:repeat-x;background-position:right 0 top 19.62px;margin-left:10px;margin-right:1px"></span><span style="color:#231f20;">76</span></div>
<div class="t" style="left:691.50px;top:665.76px;font-size:18px;line-height:22px;color:#231f20;">beefeater, tonic / tonic rose</div>
<div class="r" style="left:691.50px;top:696.33px;width:385.80px;height:30px;line-height:30px;font-size:22px;"><span style="color:#231f20;"><span style="font-size:25px;font-weight:bold;color:#a8962c;letter-spacing:0.35px;line-height:0">císařský střik</span></span><span class="d" style="background-image:radial-gradient(circle at center,#8c8c8c 0.95px,transparent 1.30px);background-size:6.1px 4px;background-repeat:repeat-x;background-position:right 0 top 19.62px;margin-left:10px;margin-right:1px"></span><span style="color:#231f20;">69</span></div>
<div class="t" style="left:691.50px;top:723.31px;font-size:18px;line-height:22px;color:#231f20;">víno, soda, bezová šťáva</div>
<div class="r" style="left:691.50px;top:754.08px;width:385.80px;height:30px;line-height:30px;font-size:22px;"><span style="color:#231f20;"><span style="font-size:25px;font-weight:bold;color:#a8962c;letter-spacing:0.35px;line-height:0">hugo</span> <span style="color:#e01f26;font-size:16.5px;font-weight:bold;letter-spacing:0.6px;line-height:0;position:relative;top:-3px;margin-left:3px">také nealko</span></span><span class="d" style="background-image:radial-gradient(circle at center,#8c8c8c 0.95px,transparent 1.30px);background-size:6.1px 4px;background-repeat:repeat-x;background-position:right 0 top 19.62px;margin-left:10px;margin-right:1px"></span><span style="color:#231f20;">75</span></div>
<div class="t" style="left:691.50px;top:781.06px;font-size:18px;line-height:22px;color:#231f20;">prosecco, soda, bezová šťáva</div>
<div class="r" style="left:691.50px;top:811.83px;width:385.80px;height:30px;line-height:30px;font-size:22px;"><span style="color:#231f20;"><span style="font-size:25px;font-weight:bold;color:#a8962c;letter-spacing:0.35px;line-height:0">trávníkář 1./2.</span> <span style="color:#e01f26;font-size:16.5px;font-weight:bold;letter-spacing:0.6px;line-height:0;position:relative;top:-3px;margin-left:3px">také nealko</span></span><span class="d" style="background-image:radial-gradient(circle at center,#8c8c8c 0.95px,transparent 1.30px);background-size:6.1px 4px;background-repeat:repeat-x;background-position:right 0 top 19.62px;margin-left:10px;margin-right:1px"></span><span style="color:#231f20;">59</span></div>
<div class="t" style="left:691.50px;top:838.81px;font-size:18px;line-height:22px;color:#231f20;">blue curacao, pomerančový/hruškový džus</div>
<div class="r" style="left:691.50px;top:870.28px;width:385.80px;height:30px;line-height:30px;font-size:22px;"><span style="color:#231f20;"><span style="font-size:25px;font-weight:bold;color:#a8962c;letter-spacing:0.35px;line-height:0">tequilový úsvit</span></span><span class="d" style="background-image:radial-gradient(circle at center,#8c8c8c 0.95px,transparent 1.30px);background-size:6.1px 4px;background-repeat:repeat-x;background-position:right 0 top 19.62px;margin-left:10px;margin-right:1px"></span><span style="color:#231f20;">88</span></div>
<div class="t" style="left:691.50px;top:897.26px;font-size:18px;line-height:22px;color:#231f20;">tequila, pomerančový džus, grenadina</div>
<div class="r" style="left:691.50px;top:927.33px;width:385.80px;height:30px;line-height:30px;font-size:22px;"><span style="color:#231f20;"><span style="font-size:25px;font-weight:bold;color:#a8962c;letter-spacing:0.35px;line-height:0">záhrada</span> <span style="color:#e01f26;font-size:16.5px;font-weight:bold;letter-spacing:0.6px;line-height:0;position:relative;top:-3px;margin-left:3px">také nealko</span></span><span class="d" style="background-image:radial-gradient(circle at center,#8c8c8c 0.95px,transparent 1.30px);background-size:6.1px 4px;background-repeat:repeat-x;background-position:right 0 top 19.62px;margin-left:10px;margin-right:1px"></span><span style="color:#231f20;">56</span></div>
<div class="t" style="left:691.50px;top:954.31px;font-size:18px;line-height:22px;color:#231f20;">amareto, jablečný mošt</div>
<div style="position:absolute;left:1094px;top:993.90px;width:106.00px;height:42.40px;background:linear-gradient(90deg,#767676 0.00px 5.80px,#fdbb00 5.80px 10.10px,#767676 10.10px 12.90px,#fdbb00 12.90px 22.50px,#767676 22.50px 24.30px,#dcdcdc 24.30px 37.60px,#fdbb00 37.60px 42.20px,#767676 42.20px 47.70px,#fdbb00 47.70px 52.30px,#dcdcdc 52.30px 58.90px,#111 58.90px 60.50px,#767676 60.50px 71.90px,#fdbb00 71.90px 80.20px,#767676 80.20px 82.50px,#dcdcdc 82.50px 95.90px,#fdbb00 95.90px 99.90px,#767676 99.90px 106.00px)"></div>
<div style="position:absolute;left:742.00px;top:1036.30px;width:458.00px;height:6.50px;background:#e30613;"></div>
<div class="t" style="right:119.20px;top:1003.28px;font-size:29.5px;line-height:34px;color:#6a6a6a;font-weight:bold;letter-spacing:-0.35px;">LAHVOVÁ PIVA, CIDERY</div>
<div class="r" style="left:691.50px;top:1044.68px;width:385.80px;height:28px;line-height:28px;font-size:22px;"><span style="color:#231f20;">Cider <span style="font-size:17px;color:#c9202c;line-height:0">0,33l</span></span><span class="d" style="background-image:radial-gradient(circle at center,#8c8c8c 0.95px,transparent 1.30px);background-size:6.1px 4px;background-repeat:repeat-x;background-position:right 0 top 18.62px;margin-left:6px;margin-right:2px"></span><span style="color:#231f20;">59</span></div>
<div class="r" style="left:691.50px;top:1072.68px;width:385.80px;height:28px;line-height:28px;font-size:22px;"><span style="color:#231f20;">Samson 11° <span style="font-size:17px;color:#c9202c;line-height:0">0,33l</span></span><span class="d" style="background-image:radial-gradient(circle at center,#8c8c8c 0.95px,transparent 1.30px);background-size:6.1px 4px;background-repeat:repeat-x;background-position:right 0 top 18.62px;margin-left:6px;margin-right:2px"></span><span style="color:#231f20;">49</span></div>
<div class="r" style="left:691.50px;top:1100.68px;width:385.80px;height:28px;line-height:28px;font-size:22px;"><span style="color:#231f20;">Pilsner Urquell 12° <span style="font-size:17px;color:#c9202c;line-height:0">0,33l</span></span><span class="d" style="background-image:radial-gradient(circle at center,#8c8c8c 0.95px,transparent 1.30px);background-size:6.1px 4px;background-repeat:repeat-x;background-position:right 0 top 18.62px;margin-left:6px;margin-right:2px"></span><span style="color:#231f20;">57</span></div>
<div class="r" style="left:691.50px;top:1128.68px;width:385.80px;height:28px;line-height:28px;font-size:22px;"><span style="color:#231f20;">Konrad 11° <span style="font-size:17px;color:#c9202c;line-height:0">0,5l</span></span><span class="d" style="background-image:radial-gradient(circle at center,#8c8c8c 0.95px,transparent 1.30px);background-size:6.1px 4px;background-repeat:repeat-x;background-position:right 0 top 18.62px;margin-left:6px;margin-right:2px"></span><span style="color:#231f20;">49</span></div>
<div class="r" style="left:691.50px;top:1156.68px;width:385.80px;height:28px;line-height:28px;font-size:22px;"><span style="color:#231f20;">nealko pivo <span style="font-size:17px;color:#c9202c;line-height:0">0,5l</span></span><span class="d" style="background-image:radial-gradient(circle at center,#8c8c8c 0.95px,transparent 1.30px);background-size:6.1px 4px;background-repeat:repeat-x;background-position:right 0 top 18.62px;margin-left:6px;margin-right:2px"></span><span style="color:#231f20;">48</span></div>
<div class="r" style="left:691.50px;top:1184.68px;width:385.80px;height:28px;line-height:28px;font-size:22px;"><span style="color:#231f20;">Dráteník 11° a jiné <span style="font-size:17px;color:#c9202c;line-height:0">0,33l</span></span><span class="d" style="background-image:radial-gradient(circle at center,#8c8c8c 0.95px,transparent 1.30px);background-size:6.1px 4px;background-repeat:repeat-x;background-position:right 0 top 18.62px;margin-left:6px;margin-right:2px"></span><span style="color:#231f20;">68</span></div>
<div style="position:absolute;left:1094px;top:1234.80px;width:106.00px;height:43.20px;background:linear-gradient(90deg,#767676 0.00px 5.80px,#fdbb00 5.80px 10.10px,#767676 10.10px 12.90px,#fdbb00 12.90px 22.50px,#767676 22.50px 24.30px,#dcdcdc 24.30px 37.60px,#fdbb00 37.60px 42.20px,#767676 42.20px 47.70px,#fdbb00 47.70px 52.30px,#dcdcdc 52.30px 58.90px,#111 58.90px 60.50px,#767676 60.50px 71.90px,#fdbb00 71.90px 80.20px,#767676 80.20px 82.50px,#dcdcdc 82.50px 95.90px,#fdbb00 95.90px 99.90px,#767676 99.90px 106.00px)"></div>
<div style="position:absolute;left:941.30px;top:1278.00px;width:258.70px;height:5.30px;background:#e30613;"></div>
<div class="t" style="right:120.00px;top:1244.98px;font-size:29.5px;line-height:34px;color:#6a6a6a;font-weight:bold;letter-spacing:-0.35px;">LIHOVINY</div>
<div class="t" style="right:120.00px;top:1290.11px;font-size:17px;line-height:22px;color:#c9202c;">0,04 l</div>
<div class="r" style="left:691.50px;top:1313.38px;width:385.80px;height:28px;line-height:28px;font-size:22px;"><span style="color:#231f20;">vodka broskvová</span><span class="d" style="background-image:radial-gradient(circle at center,#9a9a9a 0.95px,transparent 1.30px);background-size:9.1px 4px;background-repeat:repeat-x;background-position:right 0 top 18.62px;margin-left:8px;margin-right:12px"></span><span style="color:#231f20;">39</span></div>
<div class="r" style="left:691.50px;top:1341.34px;width:385.80px;height:28px;line-height:28px;font-size:22px;"><span style="color:#231f20;">vodka Pražská</span><span class="d" style="background-image:radial-gradient(circle at center,#9a9a9a 0.95px,transparent 1.30px);background-size:9.1px 4px;background-repeat:repeat-x;background-position:right 0 top 18.62px;margin-left:8px;margin-right:12px"></span><span style="color:#231f20;">35</span></div>
<div class="r" style="left:691.50px;top:1369.30px;width:385.80px;height:28px;line-height:28px;font-size:22px;"><span style="color:#231f20;">vodka Absolut</span><span class="d" style="background-image:radial-gradient(circle at center,#9a9a9a 0.95px,transparent 1.30px);background-size:9.1px 4px;background-repeat:repeat-x;background-position:right 0 top 18.62px;margin-left:8px;margin-right:12px"></span><span style="color:#231f20;">48</span></div>
<div class="r" style="left:691.50px;top:1397.26px;width:385.80px;height:28px;line-height:28px;font-size:22px;"><span style="color:#231f20;">gin</span><span class="d" style="background-image:radial-gradient(circle at center,#9a9a9a 0.95px,transparent 1.30px);background-size:9.1px 4px;background-repeat:repeat-x;background-position:right 0 top 18.62px;margin-left:8px;margin-right:12px"></span><span style="color:#231f20;">44</span></div>
<div class="r" style="left:691.50px;top:1425.22px;width:385.80px;height:28px;line-height:28px;font-size:22px;"><span style="color:#231f20;">gin Beefeater / Pink</span><span class="d" style="background-image:radial-gradient(circle at center,#9a9a9a 0.95px,transparent 1.30px);background-size:9.1px 4px;background-repeat:repeat-x;background-position:right 0 top 18.62px;margin-left:8px;margin-right:12px"></span><span style="color:#231f20;">62</span></div>
<div class="r" style="left:691.50px;top:1453.18px;width:385.80px;height:28px;line-height:28px;font-size:22px;"><span style="color:#231f20;">Jack Daniel’s</span><span class="d" style="background-image:radial-gradient(circle at center,#9a9a9a 0.95px,transparent 1.30px);background-size:9.1px 4px;background-repeat:repeat-x;background-position:right 0 top 18.62px;margin-left:8px;margin-right:12px"></span><span style="color:#231f20;">79</span></div>
<div class="r" style="left:691.50px;top:1481.14px;width:385.80px;height:28px;line-height:28px;font-size:22px;"><span style="color:#231f20;">Jack Daniel’s Honey</span><span class="d" style="background-image:radial-gradient(circle at center,#9a9a9a 0.95px,transparent 1.30px);background-size:9.1px 4px;background-repeat:repeat-x;background-position:right 0 top 18.62px;margin-left:8px;margin-right:12px"></span><span style="color:#231f20;">79</span></div>
<div class="r" style="left:691.50px;top:1509.10px;width:385.80px;height:28px;line-height:28px;font-size:22px;"><span style="color:#231f20;">Tullamore Dew</span><span class="d" style="background-image:radial-gradient(circle at center,#9a9a9a 0.95px,transparent 1.30px);background-size:9.1px 4px;background-repeat:repeat-x;background-position:right 0 top 18.62px;margin-left:8px;margin-right:12px"></span><span style="color:#231f20;">59</span></div>
<div class="r" style="left:691.50px;top:1537.06px;width:385.80px;height:28px;line-height:28px;font-size:22px;"><span style="color:#231f20;">Becherovka</span><span class="d" style="background-image:radial-gradient(circle at center,#9a9a9a 0.95px,transparent 1.30px);background-size:9.1px 4px;background-repeat:repeat-x;background-position:right 0 top 18.62px;margin-left:8px;margin-right:12px"></span><span style="color:#231f20;">45</span></div>
<div class="r" style="left:691.50px;top:1565.02px;width:385.80px;height:28px;line-height:28px;font-size:22px;"><span style="color:#231f20;">Jägermeister</span><span class="d" style="background-image:radial-gradient(circle at center,#9a9a9a 0.95px,transparent 1.30px);background-size:9.1px 4px;background-repeat:repeat-x;background-position:right 0 top 18.62px;margin-left:8px;margin-right:12px"></span><span style="color:#231f20;">53</span></div>
<div class="r" style="left:691.50px;top:1592.98px;width:385.80px;height:28px;line-height:28px;font-size:22px;"><span style="color:#231f20;">Malibu</span><span class="d" style="background-image:radial-gradient(circle at center,#9a9a9a 0.95px,transparent 1.30px);background-size:9.1px 4px;background-repeat:repeat-x;background-position:right 0 top 18.62px;margin-left:8px;margin-right:12px"></span><span style="color:#231f20;">44</span></div>
<div class="r" style="left:691.50px;top:1620.94px;width:385.80px;height:28px;line-height:28px;font-size:22px;"><span style="color:#231f20;">Bacardi</span><span class="d" style="background-image:radial-gradient(circle at center,#9a9a9a 0.95px,transparent 1.30px);background-size:9.1px 4px;background-repeat:repeat-x;background-position:right 0 top 18.62px;margin-left:8px;margin-right:12px"></span><span style="color:#231f20;">52</span></div>
<div class="r" style="left:691.50px;top:1648.90px;width:385.80px;height:28px;line-height:28px;font-size:22px;"><span style="color:#231f20;">rum Pearl of Mauritius</span><span class="d" style="background-image:radial-gradient(circle at center,#9a9a9a 0.95px,transparent 1.30px);background-size:9.1px 4px;background-repeat:repeat-x;background-position:right 0 top 18.62px;margin-left:8px;margin-right:10px"></span><span style="color:#231f20;">152</span></div>
<div class="r" style="left:691.50px;top:1676.86px;width:385.80px;height:28px;line-height:28px;font-size:22px;"><span style="color:#231f20;">Republica</span><span class="d" style="background-image:radial-gradient(circle at center,#9a9a9a 0.95px,transparent 1.30px);background-size:9.1px 4px;background-repeat:repeat-x;background-position:right 0 top 18.62px;margin-left:8px;margin-right:59px"></span><span style="color:#231f20;">55</span></div>
<div class="r" style="left:691.50px;top:1704.82px;width:385.80px;height:28px;line-height:28px;font-size:22px;"><span style="color:#231f20;">Captain Morgan</span><span class="d" style="background-image:radial-gradient(circle at center,#9a9a9a 0.95px,transparent 1.30px);background-size:9.1px 4px;background-repeat:repeat-x;background-position:right 0 top 18.62px;margin-left:8px;margin-right:59px"></span><span style="color:#231f20;">53</span></div>
<div class="r" style="left:691.50px;top:1732.78px;width:385.80px;height:28px;line-height:28px;font-size:22px;"><span style="color:#231f20;">rum Pampero Aniversario</span><span class="d" style="background-image:radial-gradient(circle at center,#9a9a9a 0.95px,transparent 1.30px);background-size:9.1px 4px;background-repeat:repeat-x;background-position:right 0 top 18.62px;margin-left:8px;margin-right:7px"></span><span style="color:#231f20;">98</span></div>
<div class="r" style="left:691.50px;top:1760.74px;width:385.80px;height:28px;line-height:28px;font-size:22px;"><span style="color:#231f20;">tequila gold</span><span class="d" style="background-image:radial-gradient(circle at center,#9a9a9a 0.95px,transparent 1.30px);background-size:9.1px 4px;background-repeat:repeat-x;background-position:right 0 top 18.62px;margin-left:8px;margin-right:12px"></span><span style="color:#231f20;">59</span></div>
<div class="r" style="left:691.50px;top:1788.70px;width:385.80px;height:28px;line-height:28px;font-size:22px;"><span style="color:#231f20;">tequila silver</span><span class="d" style="background-image:radial-gradient(circle at center,#9a9a9a 0.95px,transparent 1.30px);background-size:9.1px 4px;background-repeat:repeat-x;background-position:right 0 top 18.62px;margin-left:8px;margin-right:12px"></span><span style="color:#231f20;">59</span></div>
<div class="r" style="left:691.50px;top:1816.66px;width:385.80px;height:28px;line-height:28px;font-size:22px;"><span style="color:#231f20;">vaječný likér</span><span class="d" style="background-image:radial-gradient(circle at center,#9a9a9a 0.95px,transparent 1.30px);background-size:9.1px 4px;background-repeat:repeat-x;background-position:right 0 top 18.62px;margin-left:8px;margin-right:12px"></span><span style="color:#231f20;">29</span></div>
<div class="r" style="left:691.50px;top:1844.62px;width:385.80px;height:28px;line-height:28px;font-size:22px;"><span style="color:#231f20;">Amaretto Barbero</span><span class="d" style="background-image:radial-gradient(circle at center,#9a9a9a 0.95px,transparent 1.30px);background-size:9.1px 4px;background-repeat:repeat-x;background-position:right 0 top 18.62px;margin-left:8px;margin-right:12px"></span><span style="color:#231f20;">34</span></div>
<div class="r" style="left:691.50px;top:1872.58px;width:385.80px;height:28px;line-height:28px;font-size:22px;"><span style="color:#231f20;">Blue Curacao</span><span class="d" style="background-image:radial-gradient(circle at center,#9a9a9a 0.95px,transparent 1.30px);background-size:9.1px 4px;background-repeat:repeat-x;background-position:right 0 top 18.62px;margin-left:8px;margin-right:12px"></span><span style="color:#231f20;">42</span></div>
<div class="r" style="left:691.50px;top:1900.54px;width:385.80px;height:28px;line-height:28px;font-size:22px;"><span style="color:#231f20;">rybízový likér</span><span class="d" style="background-image:radial-gradient(circle at center,#9a9a9a 0.95px,transparent 1.30px);background-size:9.1px 4px;background-repeat:repeat-x;background-position:right 0 top 18.62px;margin-left:8px;margin-right:12px"></span><span style="color:#231f20;">42</span></div>
<div style="position:absolute;left:0.00px;top:1941.90px;width:1200.00px;height:240.40px;background:#fcc800;"></div>
<div style="position:absolute;left:605.50px;top:1941.90px;width:1.50px;height:240.40px;background:#fde27a;"></div>
<svg style="position:absolute;left:0;top:0" width="1200" height="2186" viewBox="0 0 1200 2186"><defs><clipPath id="bandclip"><rect x="0" y="1941.9" width="1200" height="240.4"/></clipPath></defs><g clip-path="url(#bandclip)"><path d="M8 1965 Q30 1985 56 1996" fill="none" stroke="#fff" stroke-width="4" stroke-linecap="round"/><path d="M18 1962 Q40 1975 60 1990" fill="none" stroke="#fff" stroke-width="4" stroke-linecap="round"/><path d="M83 1984 Q95 1990 98 2000" fill="none" stroke="#fff" stroke-width="4" stroke-linecap="round"/><path d="M52 2008 Q60 2020 70 2022" fill="none" stroke="#fff" stroke-width="4" stroke-linecap="round"/><path d="M140 2045 Q105 2055 72 2062" fill="none" stroke="#fff" stroke-width="4" stroke-linecap="round"/><path d="M150 2055 Q115 2066 80 2072" fill="none" stroke="#fff" stroke-width="4" stroke-linecap="round"/><path d="M55 2075 Q48 2090 48 2100" fill="none" stroke="#fff" stroke-width="4" stroke-linecap="round"/><path d="M5 2165 Q20 2140 40 2128" fill="none" stroke="#fff" stroke-width="4" stroke-linecap="round"/><path d="M15 2175 Q30 2150 48 2140" fill="none" stroke="#fff" stroke-width="4" stroke-linecap="round"/><path d="M140 2060 Q130 2080 120 2110" fill="none" stroke="#fff" stroke-width="4" stroke-linecap="round"/><path d="M150 2080 Q140 2100 125 2120" fill="none" stroke="#fff" stroke-width="4" stroke-linecap="round"/><path d="M158 1985 Q150 1995 150 2000" fill="none" stroke="#fff" stroke-width="4" stroke-linecap="round"/><path d="M162 1970 Q152 1985 152 1995" fill="none" stroke="#fff" stroke-width="4" stroke-linecap="round"/><path d="M240 1960 Q250 1975 250 1990" fill="none" stroke="#fff" stroke-width="4" stroke-linecap="round"/><path d="M232 1975 Q242 1990 242 2000" fill="none" stroke="#fff" stroke-width="4" stroke-linecap="round"/><path d="M235 2020 Q245 2035 240 2045" fill="none" stroke="#fff" stroke-width="4" stroke-linecap="round"/><path d="M245 2025 Q252 2040 248 2052" fill="none" stroke="#fff" stroke-width="4" stroke-linecap="round"/><path d="M165 2035 Q170 2045 185 2048" fill="none" stroke="#fff" stroke-width="4" stroke-linecap="round"/><path d="M360 1972 Q400 1960 450 1972" fill="none" stroke="#fff" stroke-width="4" stroke-linecap="round"/><path d="M362 1985 Q405 1974 440 1985" fill="none" stroke="#fff" stroke-width="4" stroke-linecap="round"/><path d="M318 1970 Q310 1985 315 1995" fill="none" stroke="#fff" stroke-width="4" stroke-linecap="round"/><path d="M328 2000 Q335 2012 350 2015" fill="none" stroke="#fff" stroke-width="4" stroke-linecap="round"/><path d="M420 2005 Q428 2020 432 2032" fill="none" stroke="#fff" stroke-width="4" stroke-linecap="round"/><path d="M310 2030 Q330 2025 360 2030" fill="none" stroke="#fff" stroke-width="4" stroke-linecap="round"/><path d="M305 2040 Q330 2032 350 2040" fill="none" stroke="#fff" stroke-width="4" stroke-linecap="round"/><path d="M412 2090 Q450 2100 488 2108" fill="none" stroke="#fff" stroke-width="4" stroke-linecap="round"/><path d="M412 2100 Q450 2112 485 2118" fill="none" stroke="#fff" stroke-width="4" stroke-linecap="round"/><path d="M300 2140 Q320 2160 340 2172" fill="none" stroke="#fff" stroke-width="4" stroke-linecap="round"/><path d="M302 2155 Q318 2170 335 2180" fill="none" stroke="#fff" stroke-width="4" stroke-linecap="round"/><path d="M552 2035 Q575 2030 597 2028" fill="none" stroke="#fff" stroke-width="4" stroke-linecap="round"/><path d="M555 2050 Q578 2045 598 2045" fill="none" stroke="#fff" stroke-width="4" stroke-linecap="round"/><path d="M500 2000 Q508 2015 520 2025" fill="none" stroke="#fff" stroke-width="4" stroke-linecap="round"/><path d="M515 2050 Q525 2055 540 2058" fill="none" stroke="#fff" stroke-width="4" stroke-linecap="round"/><path d="M550 2100 Q575 2090 590 2085" fill="none" stroke="#fff" stroke-width="4" stroke-linecap="round"/><path d="M552 2112 Q578 2102 592 2098" fill="none" stroke="#fff" stroke-width="4" stroke-linecap="round"/><path d="M590 2140 Q598 2150 600 2160" fill="none" stroke="#fff" stroke-width="4" stroke-linecap="round"/><path d="M615 2030 Q640 2010 672 1988" fill="none" stroke="#fff" stroke-width="4" stroke-linecap="round"/><path d="M617 2040 Q642 2022 662 2006" fill="none" stroke="#fff" stroke-width="4" stroke-linecap="round"/><path d="M752 1960 Q770 1955 800 1952" fill="none" stroke="#fff" stroke-width="4" stroke-linecap="round"/><path d="M760 1972 Q790 1965 845 1958" fill="none" stroke="#fff" stroke-width="4" stroke-linecap="round"/><path d="M712 1975 Q720 1972 728 1972" fill="none" stroke="#fff" stroke-width="4" stroke-linecap="round"/><path d="M695 2005 Q692 2020 700 2030" fill="none" stroke="#fff" stroke-width="4" stroke-linecap="round"/><path d="M775 2000 Q785 2008 785 2020" fill="none" stroke="#fff" stroke-width="4" stroke-linecap="round"/><path d="M625 2080 Q618 2095 622 2110" fill="none" stroke="#fff" stroke-width="4" stroke-linecap="round"/><path d="M633 2085 Q628 2100 630 2112" fill="none" stroke="#fff" stroke-width="4" stroke-linecap="round"/><path d="M650 2070 Q670 2060 680 2060" fill="none" stroke="#fff" stroke-width="4" stroke-linecap="round"/><path d="M720 2070 Q728 2080 732 2090" fill="none" stroke="#fff" stroke-width="4" stroke-linecap="round"/><path d="M720 2130 Q760 2145 805 2155" fill="none" stroke="#fff" stroke-width="4" stroke-linecap="round"/><path d="M716 2142 Q760 2158 790 2165" fill="none" stroke="#fff" stroke-width="4" stroke-linecap="round"/><path d="M670 2150 Q690 2158 705 2155" fill="none" stroke="#fff" stroke-width="4" stroke-linecap="round"/><path d="M812 2075 Q850 2065 875 2052" fill="none" stroke="#fff" stroke-width="4" stroke-linecap="round"/><path d="M818 2085 Q850 2077 868 2068" fill="none" stroke="#fff" stroke-width="4" stroke-linecap="round"/><path d="M770 2075 Q772 2090 780 2098" fill="none" stroke="#fff" stroke-width="4" stroke-linecap="round"/><path d="M780 2100 Q795 2105 812 2102" fill="none" stroke="#fff" stroke-width="4" stroke-linecap="round"/><path d="M1025 1965 Q1060 1960 1110 1962" fill="none" stroke="#fff" stroke-width="4" stroke-linecap="round"/><path d="M1028 1978 Q1060 1972 1088 1972" fill="none" stroke="#fff" stroke-width="4" stroke-linecap="round"/><path d="M975 1980 Q972 1992 976 2000" fill="none" stroke="#fff" stroke-width="4" stroke-linecap="round"/><path d="M1018 2005 Q1022 2010 1025 2008" fill="none" stroke="#fff" stroke-width="4" stroke-linecap="round"/><path d="M905 2000 Q930 2010 950 2015" fill="none" stroke="#fff" stroke-width="4" stroke-linecap="round"/><path d="M903 2010 Q930 2022 948 2028" fill="none" stroke="#fff" stroke-width="4" stroke-linecap="round"/><path d="M1005 2035 Q1010 2045 1005 2055" fill="none" stroke="#fff" stroke-width="4" stroke-linecap="round"/><path d="M1010 2072 Q1050 2085 1108 2100" fill="none" stroke="#fff" stroke-width="4" stroke-linecap="round"/><path d="M1015 2085 Q1060 2100 1100 2110" fill="none" stroke="#fff" stroke-width="4" stroke-linecap="round"/><path d="M1160 1995 Q1180 1980 1192 1970" fill="none" stroke="#fff" stroke-width="4" stroke-linecap="round"/><path d="M1162 2010 Q1180 1998 1195 1990" fill="none" stroke="#fff" stroke-width="4" stroke-linecap="round"/><path d="M1160 2090 Q1180 2085 1198 2080" fill="none" stroke="#fff" stroke-width="4" stroke-linecap="round"/><path d="M1162 2100 Q1182 2095 1195 2092" fill="none" stroke="#fff" stroke-width="4" stroke-linecap="round"/><path d="M1020 2140 Q1060 2150 1085 2150" fill="none" stroke="#fff" stroke-width="4" stroke-linecap="round"/><path d="M1000 2170 Q1040 2165 1078 2150" fill="none" stroke="#fff" stroke-width="4" stroke-linecap="round"/><path d="M1000 2090 Q1010 2095 1020 2100" fill="none" stroke="#fff" stroke-width="4" stroke-linecap="round"/><path d="M930 2130 Q945 2145 950 2155" fill="none" stroke="#fff" stroke-width="4" stroke-linecap="round"/><path d="M920 2150 Q935 2165 958 2172" fill="none" stroke="#fff" stroke-width="4" stroke-linecap="round"/><path d="M1165 2125 Q1172 2135 1168 2145" fill="none" stroke="#fff" stroke-width="4" stroke-linecap="round"/><path d="M1075 2045 Q1090 2052 1110 2055" fill="none" stroke="#fff" stroke-width="4" stroke-linecap="round"/><path d="M1130 2045 Q1145 2040 1150 2030" fill="none" stroke="#fff" stroke-width="4" stroke-linecap="round"/><polygon points="47.5,1957.0 49.2,1961.1 53.7,1961.5 50.3,1964.4 51.3,1968.8 47.5,1966.4 43.7,1968.8 44.7,1964.4 41.3,1961.5 45.8,1961.1" fill="#fff" stroke="#fff" stroke-width="4.8" stroke-linejoin="round"/><polygon points="47.5,1957.0 49.2,1961.1 53.7,1961.5 50.3,1964.4 51.3,1968.8 47.5,1966.4 43.7,1968.8 44.7,1964.4 41.3,1961.5 45.8,1961.1" fill="#fff" stroke="#111" stroke-width="1.8" stroke-linejoin="round"/><polygon points="27.5,2033.0 30.4,2040.0 38.0,2040.6 32.2,2045.5 34.0,2052.9 27.5,2048.9 21.0,2052.9 22.8,2045.5 17.0,2040.6 24.6,2040.0" fill="#fff" stroke="#fff" stroke-width="6.1" stroke-linejoin="round"/><polygon points="27.5,2033.0 30.4,2040.0 38.0,2040.6 32.2,2045.5 34.0,2052.9 27.5,2048.9 21.0,2052.9 22.8,2045.5 17.0,2040.6 24.6,2040.0" fill="#fff" stroke="#111" stroke-width="3.1" stroke-linejoin="round"/><polygon points="255.0,2062.0 256.9,2066.5 261.7,2066.8 258.0,2070.0 259.1,2074.7 255.0,2072.2 250.9,2074.7 252.0,2070.0 248.3,2066.8 253.1,2066.5" fill="#fff" stroke="#fff" stroke-width="5.0" stroke-linejoin="round"/><polygon points="255.0,2062.0 256.9,2066.5 261.7,2066.8 258.0,2070.0 259.1,2074.7 255.0,2072.2 250.9,2074.7 252.0,2070.0 248.3,2066.8 253.1,2066.5" fill="#fff" stroke="#111" stroke-width="2.0" stroke-linejoin="round"/><polygon points="283.0,1978.0 285.1,1983.1 290.6,1983.5 286.4,1987.1 287.7,1992.5 283.0,1989.6 278.3,1992.5 279.6,1987.1 275.4,1983.5 280.9,1983.1" fill="#fff" stroke="#fff" stroke-width="5.2" stroke-linejoin="round"/><polygon points="283.0,1978.0 285.1,1983.1 290.6,1983.5 286.4,1987.1 287.7,1992.5 283.0,1989.6 278.3,1992.5 279.6,1987.1 275.4,1983.5 280.9,1983.1" fill="#fff" stroke="#111" stroke-width="2.2" stroke-linejoin="round"/><polygon points="158.0,2137.5 160.0,2142.3 165.1,2142.7 161.2,2146.0 162.4,2151.1 158.0,2148.4 153.6,2151.1 154.8,2146.0 150.9,2142.7 156.0,2142.3" fill="#fff" stroke="#fff" stroke-width="5.1" stroke-linejoin="round"/><polygon points="158.0,2137.5 160.0,2142.3 165.1,2142.7 161.2,2146.0 162.4,2151.1 158.0,2148.4 153.6,2151.1 154.8,2146.0 150.9,2142.7 156.0,2142.3" fill="#fff" stroke="#111" stroke-width="2.1" stroke-linejoin="round"/><polygon points="391.0,2000.5 392.9,2005.0 397.7,2005.3 394.0,2008.5 395.1,2013.2 391.0,2010.7 386.9,2013.2 388.0,2008.5 384.3,2005.3 389.1,2005.0" fill="#fff" stroke="#fff" stroke-width="5.0" stroke-linejoin="round"/><polygon points="391.0,2000.5 392.9,2005.0 397.7,2005.3 394.0,2008.5 395.1,2013.2 391.0,2010.7 386.9,2013.2 388.0,2008.5 384.3,2005.3 389.1,2005.0" fill="#fff" stroke="#111" stroke-width="2.0" stroke-linejoin="round"/><polygon points="565.0,1971.5 566.6,1975.3 570.7,1975.6 567.6,1978.3 568.5,1982.4 565.0,1980.2 561.5,1982.4 562.4,1978.3 559.3,1975.6 563.4,1975.3" fill="#fff" stroke="#fff" stroke-width="4.7" stroke-linejoin="round"/><polygon points="565.0,1971.5 566.6,1975.3 570.7,1975.6 567.6,1978.3 568.5,1982.4 565.0,1980.2 561.5,1982.4 562.4,1978.3 559.3,1975.6 563.4,1975.3" fill="#fff" stroke="#111" stroke-width="1.7" stroke-linejoin="round"/><polygon points="485.0,2071.0 486.7,2075.1 491.2,2075.5 487.8,2078.4 488.8,2082.8 485.0,2080.4 481.2,2082.8 482.2,2078.4 478.8,2075.5 483.3,2075.1" fill="#fff" stroke="#fff" stroke-width="4.8" stroke-linejoin="round"/><polygon points="485.0,2071.0 486.7,2075.1 491.2,2075.5 487.8,2078.4 488.8,2082.8 485.0,2080.4 481.2,2082.8 482.2,2078.4 478.8,2075.5 483.3,2075.1" fill="#fff" stroke="#111" stroke-width="1.8" stroke-linejoin="round"/><polygon points="576.0,2140.5 577.9,2145.0 582.7,2145.3 579.0,2148.5 580.1,2153.2 576.0,2150.7 571.9,2153.2 573.0,2148.5 569.3,2145.3 574.1,2145.0" fill="#fff" stroke="#fff" stroke-width="5.0" stroke-linejoin="round"/><polygon points="576.0,2140.5 577.9,2145.0 582.7,2145.3 579.0,2148.5 580.1,2153.2 576.0,2150.7 571.9,2153.2 573.0,2148.5 569.3,2145.3 574.1,2145.0" fill="#fff" stroke="#111" stroke-width="2.0" stroke-linejoin="round"/><polygon points="465.0,2150.0 466.3,2153.2 469.8,2153.5 467.1,2155.7 467.9,2159.0 465.0,2157.2 462.1,2159.0 462.9,2155.7 460.2,2153.5 463.7,2153.2" fill="#fff" stroke="#fff" stroke-width="4.6" stroke-linejoin="round"/><polygon points="465.0,2150.0 466.3,2153.2 469.8,2153.5 467.1,2155.7 467.9,2159.0 465.0,2157.2 462.1,2159.0 462.9,2155.7 460.2,2153.5 463.7,2153.2" fill="#fff" stroke="#111" stroke-width="1.6" stroke-linejoin="round"/><circle cx="75.0" cy="2002.5" r="17.5" fill="#fff"/><circle cx="75.0" cy="2002.5" r="15.0" fill="#fff" stroke="#111" stroke-width="3.0"/><path d="M66.8 2002.5 A8.2 8.2 0 1 1 77.5 2010.3" fill="none" stroke="#111" stroke-width="3.0"/><path d="M72.7 2014.2 A11.7 11.7 0 0 1 63.3 2001.3" fill="none" stroke="#111" stroke-width="1.8"/><path d="M78.8 2002.5 A3.8 3.8 0 1 1 75.0 1998.8" fill="none" stroke="#111" stroke-width="2.0"/><circle cx="337.5" cy="1983.5" r="19.5" fill="#fff"/><circle cx="337.5" cy="1983.5" r="17.0" fill="#fff" stroke="#111" stroke-width="3.4"/><path d="M328.1 1983.5 A9.4 9.4 0 1 1 340.3 1992.4" fill="none" stroke="#111" stroke-width="3.4"/><path d="M334.8 1996.8 A13.3 13.3 0 0 1 324.2 1982.2" fill="none" stroke="#111" stroke-width="2.0"/><path d="M341.8 1983.5 A4.2 4.2 0 1 1 337.5 1979.2" fill="none" stroke="#111" stroke-width="2.2"/><circle cx="198.8" cy="2006.2" r="39.0" fill="#fff"/><circle cx="198.8" cy="2006.2" r="36.0" fill="#fff" stroke="#111" stroke-width="4.5"/><ellipse cx="223.9" cy="2006.2" rx="6.3" ry="4.0" transform="rotate(90 223.9 2006.2)" fill="#111"/><ellipse cx="219.9" cy="2019.9" rx="6.3" ry="4.0" transform="rotate(123 219.9 2019.9)" fill="#111"/><ellipse cx="209.2" cy="2029.2" rx="6.3" ry="4.0" transform="rotate(155 209.2 2029.2)" fill="#111"/><ellipse cx="195.2" cy="2031.2" rx="6.3" ry="4.0" transform="rotate(188 195.2 2031.2)" fill="#111"/><ellipse cx="182.2" cy="2025.3" rx="6.3" ry="4.0" transform="rotate(221 182.2 2025.3)" fill="#111"/><ellipse cx="174.6" cy="2013.3" rx="6.3" ry="4.0" transform="rotate(254 174.6 2013.3)" fill="#111"/><ellipse cx="174.6" cy="1999.2" rx="6.3" ry="4.0" transform="rotate(286 174.6 1999.2)" fill="#111"/><ellipse cx="182.2" cy="1987.2" rx="6.3" ry="4.0" transform="rotate(319 182.2 1987.2)" fill="#111"/><ellipse cx="195.2" cy="1981.3" rx="6.3" ry="4.0" transform="rotate(352 195.2 1981.3)" fill="#111"/><ellipse cx="209.2" cy="1983.3" rx="6.3" ry="4.0" transform="rotate(385 209.2 1983.3)" fill="#111"/><ellipse cx="219.9" cy="1992.6" rx="6.3" ry="4.0" transform="rotate(417 219.9 1992.6)" fill="#111"/><ellipse cx="212.7" cy="2010.0" rx="5.2" ry="3.4" transform="rotate(105 212.7 2010.0)" fill="#111"/><ellipse cx="202.5" cy="2020.2" rx="5.2" ry="3.4" transform="rotate(165 202.5 2020.2)" fill="#111"/><ellipse cx="188.6" cy="2016.4" rx="5.2" ry="3.4" transform="rotate(225 188.6 2016.4)" fill="#111"/><ellipse cx="184.8" cy="2002.5" rx="5.2" ry="3.4" transform="rotate(285 184.8 2002.5)" fill="#111"/><ellipse cx="195.0" cy="1992.3" rx="5.2" ry="3.4" transform="rotate(345 195.0 1992.3)" fill="#111"/><ellipse cx="208.9" cy="1996.1" rx="5.2" ry="3.4" transform="rotate(405 208.9 1996.1)" fill="#111"/><ellipse cx="198.8" cy="2006.2" rx="4" ry="2.5" fill="#111"/><circle cx="198.8" cy="2006.2" r="20.5" fill="none" stroke="#111" stroke-width="1.6" stroke-dasharray="8 6"/><circle cx="198.8" cy="2006.2" r="31.7" fill="none" stroke="#111" stroke-width="1.6" stroke-dasharray="10 8"/><g transform="rotate(15 225.0 2114.0)"><ellipse cx="225.0" cy="2114.0" rx="38.0" ry="13.0" fill="none" stroke="#fff" stroke-width="12"/><ellipse cx="225.0" cy="2114.0" rx="38.0" ry="13.0" fill="none" stroke="#111" stroke-width="9"/><ellipse cx="225.0" cy="2114.0" rx="38.0" ry="13.0" fill="none" stroke="#fff" stroke-width="1.6"/><circle cx="225.0" cy="2114.0" r="23.5" fill="#fff"/><circle cx="225.0" cy="2114.0" r="21.0" fill="#fff" stroke="#111" stroke-width="4.6"/><path d="M213.4 2116.1 A14.7 14.7 0 0 1 232.3 2101.4" fill="none" stroke="#111" stroke-width="4.2"/><path d="M227.1 2099.3 Q237.6 2111.9 231.3 2120.3" fill="none" stroke="#111" stroke-width="3.8"/><path d="M212.4 2111.9 A12.6 12.6 0 0 1 237.6 2111.9" fill="none" stroke="#111" stroke-width="3.1"/><path d="M218.7 2109.8 A6.3 6.3 0 0 1 231.3 2109.8" fill="none" stroke="#111" stroke-width="2.5"/><path d="M214.5 2125.6 Q225.0 2130.8 235.5 2125.6" fill="none" stroke="#111" stroke-width="3.1"/><path d="M187.0 2114.0 A38.0 13.0 0 0 0 263.0 2114.0" fill="none" stroke="#fff" stroke-width="12"/><path d="M187.0 2114.0 A38.0 13.0 0 0 0 263.0 2114.0" fill="none" stroke="#111" stroke-width="9"/><path d="M187.0 2114.0 A38.0 13.0 0 0 0 263.0 2114.0" fill="none" stroke="#fff" stroke-width="1.6"/></g><defs><clipPath id="sp1"><circle cx="520.0" cy="2130.0" r="22.0"/></clipPath></defs><circle cx="520.0" cy="2130.0" r="25.0" fill="#fff"/><circle cx="520.0" cy="2130.0" r="22.0" fill="#fff"/><g clip-path="url(#sp1)" transform="rotate(20 520.0 2130.0)"><path d="M498.0 2113.2 Q520.0 2106.2 542.0 2113.2" fill="none" stroke="#111" stroke-width="3.5"/><path d="M498.0 2119.8 Q520.0 2112.8 542.0 2119.8" fill="none" stroke="#111" stroke-width="3.5"/><path d="M498.0 2126.4 Q520.0 2119.4 542.0 2126.4" fill="none" stroke="#111" stroke-width="3.5"/><path d="M498.0 2133.0 Q520.0 2126.0 542.0 2133.0" fill="none" stroke="#111" stroke-width="3.5"/><path d="M498.0 2139.6 Q520.0 2132.6 542.0 2139.6" fill="none" stroke="#111" stroke-width="3.5"/><path d="M498.0 2146.2 Q520.0 2139.2 542.0 2146.2" fill="none" stroke="#111" stroke-width="3.5"/><path d="M498.0 2152.8 Q520.0 2145.8 542.0 2152.8" fill="none" stroke="#111" stroke-width="3.5"/></g><circle cx="520.0" cy="2130.0" r="22.0" fill="none" stroke="#111" stroke-width="3.7"/><g transform="translate(72.0 2103.0) rotate(-36)"><path d="M-8 -15.2 L-46 -6.1000000000000005 L-8 -10.8Z" fill="#111" stroke="#111" stroke-width="1.2" stroke-linejoin="round"/><path d="M-8 -4.2 L-58 6.699999999999999 L-8 0.20000000000000018Z" fill="#111" stroke="#111" stroke-width="1.2" stroke-linejoin="round"/><path d="M-8 6.8 L-56 17.4 L-8 11.2Z" fill="#111" stroke="#111" stroke-width="1.2" stroke-linejoin="round"/><path d="M-8 16.8 L-44 25.6 L-8 21.2Z" fill="#111" stroke="#111" stroke-width="1.2" stroke-linejoin="round"/><path d="M0 -25 L70 -20 Q96 -8 104 0 Q96 8 70 20 L0 25 Z" fill="#fff" stroke="#fff" stroke-width="7"/><path d="M0 -25 L70 -20 Q96 -8 104 0 Q96 8 70 20 L0 25 Z" fill="#fff" stroke="#111" stroke-width="4"/><line x1="22" y1="-23.5" x2="22" y2="23.5" stroke="#111" stroke-width="3"/><line x1="44" y1="-21.9" x2="44" y2="21.9" stroke="#111" stroke-width="3"/><line x1="66" y1="-20.4" x2="66" y2="20.4" stroke="#111" stroke-width="3"/><line x1="86" y1="-11.2" x2="86" y2="11.2" stroke="#111" stroke-width="3"/><line x1="0" y1="-9" x2="92" y2="-3.6" stroke="#111" stroke-width="2.5"/><line x1="0" y1="9" x2="92" y2="3.6" stroke="#111" stroke-width="2.5"/><line x1="8" y1="-18" x2="8" y2="18" stroke="#111" stroke-width="1.2"/><line x1="14" y1="-18" x2="14" y2="18" stroke="#111" stroke-width="1.2"/><line x1="30" y1="-18" x2="30" y2="18" stroke="#111" stroke-width="1.2"/><line x1="36" y1="-18" x2="36" y2="18" stroke="#111" stroke-width="1.2"/><line x1="52" y1="-18" x2="52" y2="18" stroke="#111" stroke-width="1.2"/><line x1="58" y1="-18" x2="58" y2="18" stroke="#111" stroke-width="1.2"/><line x1="74" y1="-18" x2="74" y2="18" stroke="#111" stroke-width="1.2"/><ellipse cx="0" cy="0" rx="14" ry="26" fill="#fff" stroke="#111" stroke-width="5"/><ellipse cx="1" cy="0" rx="8" ry="18" fill="#333" stroke="#111" stroke-width="2"/><ellipse cx="1" cy="0" rx="4" ry="9" fill="none" stroke="#fff" stroke-width="1.2"/></g><polygon points="418,2066 452,2082 420,2071" fill="#111" stroke="#111" stroke-width="2" stroke-linejoin="round"/><polygon points="420,2072 446,2086 418,2077" fill="#111" stroke="#111" stroke-width="2" stroke-linejoin="round"/><polygon points="416,2062 440,2070 417,2066" fill="#111" stroke="#111" stroke-width="2" stroke-linejoin="round"/><polygon points="398,2114 435,2136 400,2119" fill="#111" stroke="#111" stroke-width="2" stroke-linejoin="round"/><polygon points="397,2120 428,2139 398,2124" fill="#111" stroke="#111" stroke-width="2" stroke-linejoin="round"/><polygon points="400,2110 425,2121 401,2113" fill="#111" stroke="#111" stroke-width="2" stroke-linejoin="round"/><path d="M270 2034.2 L290 2041.7 C310 2042.5 335 2043.5 358.3 2045 L402 2070 L388 2099 L341.7 2092 C325 2080 308 2064 290 2043 Z" fill="#fff" stroke="#fff" stroke-width="6" stroke-linejoin="round"/><path d="M355 2045 C375 2047 395 2050 406.7 2053 Q420 2056 416 2064 Q412 2072 405 2071 C390 2067 370 2062 358 2057 Z" fill="#fff" stroke="#fff" stroke-width="6" stroke-linejoin="round"/><path d="M340 2089 C360 2094 378 2100 390 2104 Q400 2108 396 2114 Q392 2121 385 2119 C372 2114 356 2107 343 2101 Z" fill="#fff" stroke="#fff" stroke-width="6" stroke-linejoin="round"/><path d="M393.3 2046 L403.3 2035.8 L421.7 2041.7 L413.3 2053.3 Z" fill="#fff" stroke="#fff" stroke-width="6" stroke-linejoin="round"/><path d="M366.7 2113.3 L386.7 2118.3 L384.2 2135 L368.3 2128.3 Z" fill="#fff" stroke="#fff" stroke-width="6" stroke-linejoin="round"/><path d="M393.3 2046 L403.3 2035.8 L421.7 2041.7 L413.3 2053.3 Z" fill="#fff" stroke="#111" stroke-width="3.5" stroke-linejoin="round"/><path d="M366.7 2113.3 L386.7 2118.3 L384.2 2135 L368.3 2128.3 Z" fill="#fff" stroke="#111" stroke-width="3.5" stroke-linejoin="round"/><path d="M270 2034.2 L290 2041.7 C310 2042.5 335 2043.5 358.3 2045 L402 2070 L388 2099 L341.7 2092 C325 2080 308 2064 290 2043 Z" fill="#fff" stroke="#111" stroke-width="3.5" stroke-linejoin="round"/><path d="M355 2045 C375 2047 395 2050 406.7 2053 Q420 2056 416 2064 Q412 2072 405 2071 C390 2067 370 2062 358 2057 Z" fill="#fff" stroke="#111" stroke-width="3.5" stroke-linejoin="round"/><path d="M340 2089 C360 2094 378 2100 390 2104 Q400 2108 396 2114 Q392 2121 385 2119 C372 2114 356 2107 343 2101 Z" fill="#fff" stroke="#111" stroke-width="3.5" stroke-linejoin="round"/><path d="M296 2044 C330 2050 370 2060 398 2072" fill="none" stroke="#111" stroke-width="2.8"/><path d="M305 2052 C335 2062 365 2075 390 2088" fill="none" stroke="#111" stroke-width="2.8"/><path d="M318 2066 C340 2076 360 2086 384 2094" fill="none" stroke="#111" stroke-width="2.8"/><path d="M340 2049 C360 2052 380 2058 396 2064" fill="none" stroke="#111" stroke-width="2.8"/><path d="M362 2052 L404 2062" fill="none" stroke="#111" stroke-width="2.8"/><path d="M350 2096 L390 2110" fill="none" stroke="#111" stroke-width="2.8"/><line x1="398" y1="2040.0" x2="395" y2="2050.0" stroke="#111" stroke-width="1.5"/><line x1="403" y1="2041.5" x2="400" y2="2051.5" stroke="#111" stroke-width="1.5"/><line x1="408" y1="2043.0" x2="405" y2="2053.0" stroke="#111" stroke-width="1.5"/><line x1="413" y1="2044.5" x2="410" y2="2054.5" stroke="#111" stroke-width="1.5"/><line x1="371" y1="2118" x2="371" y2="2129" stroke="#111" stroke-width="1.5"/><line x1="376" y1="2118" x2="376" y2="2129" stroke="#111" stroke-width="1.5"/><line x1="381" y1="2118" x2="381" y2="2129" stroke="#111" stroke-width="1.5"/><g transform="translate(493.0 2011.0) rotate(14) scale(1.000)"><ellipse cx="0" cy="8" rx="60" ry="21" fill="#fff"/><ellipse cx="0" cy="8" rx="57" ry="18" fill="#fff" stroke="#111" stroke-width="5"/><ellipse cx="0" cy="8" rx="46" ry="11" fill="none" stroke="#111" stroke-width="2.5"/><line x1="-36" y1="0" x2="-44" y2="16" stroke="#111" stroke-width="2.5"/><line x1="-27" y1="0" x2="-33" y2="16" stroke="#111" stroke-width="2.5"/><line x1="-18" y1="0" x2="-22" y2="16" stroke="#111" stroke-width="2.5"/><line x1="-9" y1="0" x2="-11" y2="16" stroke="#111" stroke-width="2.5"/><line x1="0" y1="0" x2="0" y2="16" stroke="#111" stroke-width="2.5"/><line x1="9" y1="0" x2="11" y2="16" stroke="#111" stroke-width="2.5"/><line x1="18" y1="0" x2="22" y2="16" stroke="#111" stroke-width="2.5"/><line x1="27" y1="0" x2="33" y2="16" stroke="#111" stroke-width="2.5"/><line x1="36" y1="0" x2="44" y2="16" stroke="#111" stroke-width="2.5"/><path d="M-28 20 Q0 38 28 20" fill="#fff" stroke="#111" stroke-width="5"/><path d="M-27 6 L-23 -22 Q0 -30 23 -22 L27 6 Q0 12 -27 6Z" fill="#fff" stroke="#111" stroke-width="4.5"/><line x1="-19.5" y1="-17" x2="-22.5" y2="5" stroke="#111" stroke-width="3"/><line x1="-13.0" y1="-17" x2="-15.0" y2="5" stroke="#111" stroke-width="3"/><line x1="-6.5" y1="-17" x2="-7.5" y2="5" stroke="#111" stroke-width="3"/><line x1="0.0" y1="-17" x2="0.0" y2="5" stroke="#111" stroke-width="3"/><line x1="6.5" y1="-17" x2="7.5" y2="5" stroke="#111" stroke-width="3"/><line x1="13.0" y1="-17" x2="15.0" y2="5" stroke="#111" stroke-width="3"/><line x1="19.5" y1="-17" x2="22.5" y2="5" stroke="#111" stroke-width="3"/><line x1="0" y1="-26" x2="0" y2="-40" stroke="#111" stroke-width="3.5"/><circle cx="0" cy="-42" r="6" fill="#fff" stroke="#111" stroke-width="4"/></g><polygon points="642.5,1967.0 644.2,1971.1 648.7,1971.5 645.3,1974.4 646.3,1978.8 642.5,1976.4 638.7,1978.8 639.7,1974.4 636.3,1971.5 640.8,1971.1" fill="#fff" stroke="#fff" stroke-width="4.8" stroke-linejoin="round"/><polygon points="642.5,1967.0 644.2,1971.1 648.7,1971.5 645.3,1974.4 646.3,1978.8 642.5,1976.4 638.7,1978.8 639.7,1974.4 636.3,1971.5 640.8,1971.1" fill="#fff" stroke="#111" stroke-width="1.8" stroke-linejoin="round"/><polygon points="674.0,2031.0 675.7,2035.1 680.2,2035.5 676.8,2038.4 677.8,2042.8 674.0,2040.4 670.2,2042.8 671.2,2038.4 667.8,2035.5 672.3,2035.1" fill="#fff" stroke="#fff" stroke-width="4.8" stroke-linejoin="round"/><polygon points="674.0,2031.0 675.7,2035.1 680.2,2035.5 676.8,2038.4 677.8,2042.8 674.0,2040.4 670.2,2042.8 671.2,2038.4 667.8,2035.5 672.3,2035.1" fill="#fff" stroke="#111" stroke-width="1.8" stroke-linejoin="round"/><polygon points="817.5,2027.5 819.9,2033.2 826.1,2033.7 821.4,2037.8 822.8,2043.8 817.5,2040.5 812.2,2043.8 813.6,2037.8 808.9,2033.7 815.1,2033.2" fill="#fff" stroke="#fff" stroke-width="5.5" stroke-linejoin="round"/><polygon points="817.5,2027.5 819.9,2033.2 826.1,2033.7 821.4,2037.8 822.8,2043.8 817.5,2040.5 812.2,2043.8 813.6,2037.8 808.9,2033.7 815.1,2033.2" fill="#fff" stroke="#111" stroke-width="2.5" stroke-linejoin="round"/><polygon points="800.0,2123.5 801.5,2127.0 805.2,2127.3 802.4,2129.8 803.2,2133.4 800.0,2131.5 796.8,2133.4 797.6,2129.8 794.8,2127.3 798.5,2127.0" fill="#fff" stroke="#fff" stroke-width="4.6" stroke-linejoin="round"/><polygon points="800.0,2123.5 801.5,2127.0 805.2,2127.3 802.4,2129.8 803.2,2133.4 800.0,2131.5 796.8,2133.4 797.6,2129.8 794.8,2127.3 798.5,2127.0" fill="#fff" stroke="#111" stroke-width="1.6" stroke-linejoin="round"/><polygon points="919.0,1961.5 921.5,1967.5 928.0,1968.1 923.1,1972.3 924.6,1978.7 919.0,1975.3 913.4,1978.7 914.9,1972.3 910.0,1968.1 916.5,1967.5" fill="#fff" stroke="#fff" stroke-width="5.7" stroke-linejoin="round"/><polygon points="919.0,1961.5 921.5,1967.5 928.0,1968.1 923.1,1972.3 924.6,1978.7 919.0,1975.3 913.4,1978.7 914.9,1972.3 910.0,1968.1 916.5,1967.5" fill="#fff" stroke="#111" stroke-width="2.7" stroke-linejoin="round"/><polygon points="1014.0,2026.5 1015.6,2030.3 1019.7,2030.6 1016.6,2033.3 1017.5,2037.4 1014.0,2035.2 1010.5,2037.4 1011.4,2033.3 1008.3,2030.6 1012.4,2030.3" fill="#fff" stroke="#fff" stroke-width="4.7" stroke-linejoin="round"/><polygon points="1014.0,2026.5 1015.6,2030.3 1019.7,2030.6 1016.6,2033.3 1017.5,2037.4 1014.0,2035.2 1010.5,2037.4 1011.4,2033.3 1008.3,2030.6 1012.4,2030.3" fill="#fff" stroke="#111" stroke-width="1.7" stroke-linejoin="round"/><polygon points="1160.0,1959.5 1161.5,1963.0 1165.2,1963.3 1162.4,1965.8 1163.2,1969.4 1160.0,1967.5 1156.8,1969.4 1157.6,1965.8 1154.8,1963.3 1158.5,1963.0" fill="#fff" stroke="#fff" stroke-width="4.6" stroke-linejoin="round"/><polygon points="1160.0,1959.5 1161.5,1963.0 1165.2,1963.3 1162.4,1965.8 1163.2,1969.4 1160.0,1967.5 1156.8,1969.4 1157.6,1965.8 1154.8,1963.3 1158.5,1963.0" fill="#fff" stroke="#111" stroke-width="1.6" stroke-linejoin="round"/><polygon points="1179.0,2043.5 1181.0,2048.3 1186.1,2048.7 1182.2,2052.0 1183.4,2057.1 1179.0,2054.4 1174.6,2057.1 1175.8,2052.0 1171.9,2048.7 1177.0,2048.3" fill="#fff" stroke="#fff" stroke-width="5.1" stroke-linejoin="round"/><polygon points="1179.0,2043.5 1181.0,2048.3 1186.1,2048.7 1182.2,2052.0 1183.4,2057.1 1179.0,2054.4 1174.6,2057.1 1175.8,2052.0 1171.9,2048.7 1177.0,2048.3" fill="#fff" stroke="#111" stroke-width="2.1" stroke-linejoin="round"/><polygon points="1120.0,2147.5 1122.0,2152.3 1127.1,2152.7 1123.2,2156.0 1124.4,2161.1 1120.0,2158.4 1115.6,2161.1 1116.8,2156.0 1112.9,2152.7 1118.0,2152.3" fill="#fff" stroke="#fff" stroke-width="5.1" stroke-linejoin="round"/><polygon points="1120.0,2147.5 1122.0,2152.3 1127.1,2152.7 1123.2,2156.0 1124.4,2161.1 1120.0,2158.4 1115.6,2161.1 1116.8,2156.0 1112.9,2152.7 1118.0,2152.3" fill="#fff" stroke="#111" stroke-width="2.1" stroke-linejoin="round"/><g transform="rotate(20 732.5 2004.0)"><ellipse cx="732.5" cy="2004.0" rx="44.0" ry="15.0" fill="none" stroke="#fff" stroke-width="12"/><ellipse cx="732.5" cy="2004.0" rx="44.0" ry="15.0" fill="none" stroke="#111" stroke-width="9"/><ellipse cx="732.5" cy="2004.0" rx="44.0" ry="15.0" fill="none" stroke="#fff" stroke-width="1.6"/><circle cx="732.5" cy="2004.0" r="24.5" fill="#fff"/><circle cx="732.5" cy="2004.0" r="22.0" fill="#fff" stroke="#111" stroke-width="4.8"/><path d="M720.4 2006.2 A15.4 15.4 0 0 1 740.2 1990.8" fill="none" stroke="#111" stroke-width="4.4"/><path d="M734.7 1988.6 Q745.7 2001.8 739.1 2010.6" fill="none" stroke="#111" stroke-width="4.0"/><path d="M719.3 2001.8 A13.2 13.2 0 0 1 745.7 2001.8" fill="none" stroke="#111" stroke-width="3.3"/><path d="M725.9 1999.6 A6.6 6.6 0 0 1 739.1 1999.6" fill="none" stroke="#111" stroke-width="2.6"/><path d="M721.5 2016.1 Q732.5 2021.6 743.5 2016.1" fill="none" stroke="#111" stroke-width="3.3"/><path d="M688.5 2004.0 A44.0 15.0 0 0 0 776.5 2004.0" fill="none" stroke="#fff" stroke-width="12"/><path d="M688.5 2004.0 A44.0 15.0 0 0 0 776.5 2004.0" fill="none" stroke="#111" stroke-width="9"/><path d="M688.5 2004.0 A44.0 15.0 0 0 0 776.5 2004.0" fill="none" stroke="#fff" stroke-width="1.6"/></g><circle cx="678.8" cy="2106.2" r="39.0" fill="#fff"/><circle cx="678.8" cy="2106.2" r="36.0" fill="#fff" stroke="#111" stroke-width="4.5"/><ellipse cx="703.6" cy="2110.6" rx="6.3" ry="4.0" transform="rotate(100 703.6 2110.6)" fill="#111"/><ellipse cx="697.3" cy="2123.3" rx="6.3" ry="4.0" transform="rotate(133 697.3 2123.3)" fill="#111"/><ellipse cx="685.1" cy="2130.6" rx="6.3" ry="4.0" transform="rotate(165 685.1 2130.6)" fill="#111"/><ellipse cx="670.9" cy="2130.2" rx="6.3" ry="4.0" transform="rotate(198 670.9 2130.2)" fill="#111"/><ellipse cx="659.2" cy="2122.1" rx="6.3" ry="4.0" transform="rotate(231 659.2 2122.1)" fill="#111"/><ellipse cx="653.7" cy="2109.0" rx="6.3" ry="4.0" transform="rotate(264 653.7 2109.0)" fill="#111"/><ellipse cx="656.2" cy="2095.1" rx="6.3" ry="4.0" transform="rotate(296 656.2 2095.1)" fill="#111"/><ellipse cx="665.8" cy="2084.6" rx="6.3" ry="4.0" transform="rotate(329 665.8 2084.6)" fill="#111"/><ellipse cx="679.5" cy="2081.1" rx="6.3" ry="4.0" transform="rotate(362 679.5 2081.1)" fill="#111"/><ellipse cx="693.0" cy="2085.5" rx="6.3" ry="4.0" transform="rotate(395 693.0 2085.5)" fill="#111"/><ellipse cx="702.0" cy="2096.5" rx="6.3" ry="4.0" transform="rotate(427 702.0 2096.5)" fill="#111"/><ellipse cx="691.8" cy="2112.3" rx="5.2" ry="3.4" transform="rotate(115 691.8 2112.3)" fill="#111"/><ellipse cx="680.0" cy="2120.6" rx="5.2" ry="3.4" transform="rotate(175 680.0 2120.6)" fill="#111"/><ellipse cx="667.0" cy="2114.5" rx="5.2" ry="3.4" transform="rotate(235 667.0 2114.5)" fill="#111"/><ellipse cx="665.7" cy="2100.2" rx="5.2" ry="3.4" transform="rotate(295 665.7 2100.2)" fill="#111"/><ellipse cx="677.5" cy="2091.9" rx="5.2" ry="3.4" transform="rotate(355 677.5 2091.9)" fill="#111"/><ellipse cx="690.5" cy="2098.0" rx="5.2" ry="3.4" transform="rotate(415 690.5 2098.0)" fill="#111"/><ellipse cx="678.8" cy="2106.2" rx="4" ry="2.5" fill="#111"/><circle cx="678.8" cy="2106.2" r="20.5" fill="none" stroke="#111" stroke-width="1.6" stroke-dasharray="8 6"/><circle cx="678.8" cy="2106.2" r="31.7" fill="none" stroke="#111" stroke-width="1.6" stroke-dasharray="10 8"/><circle cx="792.5" cy="2085.0" r="20.5" fill="#fff"/><circle cx="792.5" cy="2085.0" r="18.0" fill="#fff" stroke="#111" stroke-width="3.6"/><path d="M782.6 2085.0 A9.9 9.9 0 1 1 795.5 2094.4" fill="none" stroke="#111" stroke-width="3.6"/><path d="M789.7 2099.0 A14.0 14.0 0 0 1 778.5 2083.6" fill="none" stroke="#111" stroke-width="2.2"/><path d="M797.0 2085.0 A4.5 4.5 0 1 1 792.5 2080.5" fill="none" stroke="#111" stroke-width="2.3"/><g transform="rotate(-18 877.5 2123.0)"><ellipse cx="877.5" cy="2123.0" rx="44.0" ry="14.0" fill="none" stroke="#fff" stroke-width="12"/><ellipse cx="877.5" cy="2123.0" rx="44.0" ry="14.0" fill="none" stroke="#111" stroke-width="9"/><ellipse cx="877.5" cy="2123.0" rx="44.0" ry="14.0" fill="none" stroke="#fff" stroke-width="1.6"/><circle cx="877.5" cy="2123.0" r="25.5" fill="#fff"/><circle cx="877.5" cy="2123.0" r="23.0" fill="#fff" stroke="#111" stroke-width="5.1"/><path d="M864.9 2125.3 A16.1 16.1 0 0 1 885.5 2109.2" fill="none" stroke="#111" stroke-width="4.6"/><path d="M879.8 2106.9 Q891.3 2120.7 884.4 2129.9" fill="none" stroke="#111" stroke-width="4.1"/><path d="M863.7 2120.7 A13.8 13.8 0 0 1 891.3 2120.7" fill="none" stroke="#111" stroke-width="3.4"/><path d="M870.6 2118.4 A6.9 6.9 0 0 1 884.4 2118.4" fill="none" stroke="#111" stroke-width="2.8"/><path d="M866.0 2135.7 Q877.5 2141.4 889.0 2135.7" fill="none" stroke="#111" stroke-width="3.4"/><path d="M833.5 2123.0 A44.0 14.0 0 0 0 921.5 2123.0" fill="none" stroke="#fff" stroke-width="12"/><path d="M833.5 2123.0 A44.0 14.0 0 0 0 921.5 2123.0" fill="none" stroke="#111" stroke-width="9"/><path d="M833.5 2123.0 A44.0 14.0 0 0 0 921.5 2123.0" fill="none" stroke="#fff" stroke-width="1.6"/></g><defs><clipPath id="sp2"><circle cx="1001.2" cy="1986.5" r="20.0"/></clipPath></defs><circle cx="1001.2" cy="1986.5" r="23.0" fill="#fff"/><circle cx="1001.2" cy="1986.5" r="20.0" fill="#fff"/><g clip-path="url(#sp2)" transform="rotate(15 1001.2 1986.5)"><path d="M981.2 1971.5 Q1001.2 1964.5 1021.2 1971.5" fill="none" stroke="#111" stroke-width="3.2"/><path d="M981.2 1977.5 Q1001.2 1970.5 1021.2 1977.5" fill="none" stroke="#111" stroke-width="3.2"/><path d="M981.2 1983.5 Q1001.2 1976.5 1021.2 1983.5" fill="none" stroke="#111" stroke-width="3.2"/><path d="M981.2 1989.5 Q1001.2 1982.5 1021.2 1989.5" fill="none" stroke="#111" stroke-width="3.2"/><path d="M981.2 1995.5 Q1001.2 1988.5 1021.2 1995.5" fill="none" stroke="#111" stroke-width="3.2"/><path d="M981.2 2001.5 Q1001.2 1994.5 1021.2 2001.5" fill="none" stroke="#111" stroke-width="3.2"/><path d="M981.2 2007.5 Q1001.2 2000.5 1021.2 2007.5" fill="none" stroke="#111" stroke-width="3.2"/></g><circle cx="1001.2" cy="1986.5" r="20.0" fill="none" stroke="#111" stroke-width="3.4"/><g transform="translate(833.5 1989.6) rotate(27.6)"><path d="M162 -5 L192 0 L184 -4Z" fill="#111" stroke="#111" stroke-width="1.5"/><path d="M162 2 L198 7 L190 3Z" fill="#111" stroke="#111" stroke-width="1.5"/><path d="M162 8 L188 13 L180 9Z" fill="#111" stroke="#111" stroke-width="1.5"/><path d="M0 0 C15 -9 30 -12.5 45 -12.5 L132 -12.5 L132 12.5 L48 11.5 C30 10 12 6 0 0 Z" fill="#fff" stroke="#fff" stroke-width="7"/><path d="M0 0 C15 -9 30 -12.5 45 -12.5 L132 -12.5 L132 12.5 L48 11.5 C30 10 12 6 0 0 Z" fill="#fff" stroke="#111" stroke-width="4"/><path d="M45 -12 Q51 0 46 11" fill="none" stroke="#111" stroke-width="3.5"/><line x1="14" y1="-4" x2="42" y2="-6.5" stroke="#111" stroke-width="2.2"/><line x1="56" y1="-6" x2="128" y2="-6" stroke="#111" stroke-width="3"/><line x1="56" y1="0" x2="128" y2="0" stroke="#111" stroke-width="3"/><line x1="56" y1="6" x2="128" y2="6" stroke="#111" stroke-width="3"/><path d="M128 -20 Q150 -24 158 -17 Q160 -12 152 -10 Q140 -9 128 -11Z" fill="#fff" stroke="#111" stroke-width="3.5"/><path d="M128 -5 Q150 -9 158 -2 Q160 3 152 5 Q140 6 128 4Z" fill="#fff" stroke="#111" stroke-width="3.5"/><path d="M128 10 Q150 6 158 13 Q160 18 152 20 Q140 21 128 19Z" fill="#fff" stroke="#111" stroke-width="3.5"/></g><g transform="translate(1100.0 2023.0) rotate(-18) scale(1.000)"><ellipse cx="0" cy="8" rx="60" ry="21" fill="#fff"/><ellipse cx="0" cy="8" rx="57" ry="18" fill="#fff" stroke="#111" stroke-width="5"/><ellipse cx="0" cy="8" rx="46" ry="11" fill="none" stroke="#111" stroke-width="2.5"/><line x1="-36" y1="0" x2="-44" y2="16" stroke="#111" stroke-width="2.5"/><line x1="-27" y1="0" x2="-33" y2="16" stroke="#111" stroke-width="2.5"/><line x1="-18" y1="0" x2="-22" y2="16" stroke="#111" stroke-width="2.5"/><line x1="-9" y1="0" x2="-11" y2="16" stroke="#111" stroke-width="2.5"/><line x1="0" y1="0" x2="0" y2="16" stroke="#111" stroke-width="2.5"/><line x1="9" y1="0" x2="11" y2="16" stroke="#111" stroke-width="2.5"/><line x1="18" y1="0" x2="22" y2="16" stroke="#111" stroke-width="2.5"/><line x1="27" y1="0" x2="33" y2="16" stroke="#111" stroke-width="2.5"/><line x1="36" y1="0" x2="44" y2="16" stroke="#111" stroke-width="2.5"/><path d="M-28 20 Q0 38 28 20" fill="#fff" stroke="#111" stroke-width="5"/><path d="M-27 6 L-23 -22 Q0 -30 23 -22 L27 6 Q0 12 -27 6Z" fill="#fff" stroke="#111" stroke-width="4.5"/><line x1="-19.5" y1="-17" x2="-22.5" y2="5" stroke="#111" stroke-width="3"/><line x1="-13.0" y1="-17" x2="-15.0" y2="5" stroke="#111" stroke-width="3"/><line x1="-6.5" y1="-17" x2="-7.5" y2="5" stroke="#111" stroke-width="3"/><line x1="0.0" y1="-17" x2="0.0" y2="5" stroke="#111" stroke-width="3"/><line x1="6.5" y1="-17" x2="7.5" y2="5" stroke="#111" stroke-width="3"/><line x1="13.0" y1="-17" x2="15.0" y2="5" stroke="#111" stroke-width="3"/><line x1="19.5" y1="-17" x2="22.5" y2="5" stroke="#111" stroke-width="3"/><line x1="0" y1="-26" x2="0" y2="-40" stroke="#111" stroke-width="3.5"/><circle cx="0" cy="-42" r="6" fill="#fff" stroke="#111" stroke-width="4"/></g><g transform="rotate(68 1144.0 2106.0)"><ellipse cx="1144.0" cy="2106.0" rx="30.0" ry="12.0" fill="none" stroke="#fff" stroke-width="12"/><ellipse cx="1144.0" cy="2106.0" rx="30.0" ry="12.0" fill="none" stroke="#111" stroke-width="9"/><ellipse cx="1144.0" cy="2106.0" rx="30.0" ry="12.0" fill="none" stroke="#fff" stroke-width="1.6"/><circle cx="1144.0" cy="2106.0" r="21.5" fill="#fff"/><circle cx="1144.0" cy="2106.0" r="19.0" fill="#fff" stroke="#111" stroke-width="4.2"/><path d="M1133.5 2107.9 A13.3 13.3 0 0 1 1150.7 2094.6" fill="none" stroke="#111" stroke-width="3.8"/><path d="M1145.9 2092.7 Q1155.4 2104.1 1149.7 2111.7" fill="none" stroke="#111" stroke-width="3.4"/><path d="M1132.6 2104.1 A11.4 11.4 0 0 1 1155.4 2104.1" fill="none" stroke="#111" stroke-width="2.9"/><path d="M1138.3 2102.2 A5.7 5.7 0 0 1 1149.7 2102.2" fill="none" stroke="#111" stroke-width="2.3"/><path d="M1134.5 2116.4 Q1144.0 2121.2 1153.5 2116.4" fill="none" stroke="#111" stroke-width="2.9"/><path d="M1114.0 2106.0 A30.0 12.0 0 0 0 1174.0 2106.0" fill="none" stroke="#fff" stroke-width="12"/><path d="M1114.0 2106.0 A30.0 12.0 0 0 0 1174.0 2106.0" fill="none" stroke="#111" stroke-width="9"/><path d="M1114.0 2106.0 A30.0 12.0 0 0 0 1174.0 2106.0" fill="none" stroke="#fff" stroke-width="1.6"/></g><line x1="1018.0" y1="2142.5" x2="1027.3" y2="2142.5" stroke="#fff" stroke-width="2.5" stroke-linecap="round"/><line x1="1014.9" y1="2154.0" x2="1023.0" y2="2158.7" stroke="#fff" stroke-width="2.5" stroke-linecap="round"/><line x1="1006.5" y1="2162.4" x2="1011.1" y2="2170.5" stroke="#fff" stroke-width="2.5" stroke-linecap="round"/><line x1="995.0" y1="2165.4" x2="995.0" y2="2174.8" stroke="#fff" stroke-width="2.5" stroke-linecap="round"/><line x1="983.5" y1="2162.4" x2="978.9" y2="2170.5" stroke="#fff" stroke-width="2.5" stroke-linecap="round"/><line x1="975.1" y1="2154.0" x2="967.0" y2="2158.7" stroke="#fff" stroke-width="2.5" stroke-linecap="round"/><line x1="972.0" y1="2142.5" x2="962.7" y2="2142.5" stroke="#fff" stroke-width="2.5" stroke-linecap="round"/><line x1="975.1" y1="2131.0" x2="967.0" y2="2126.3" stroke="#fff" stroke-width="2.5" stroke-linecap="round"/><line x1="983.5" y1="2122.6" x2="978.9" y2="2114.5" stroke="#fff" stroke-width="2.5" stroke-linecap="round"/><line x1="995.0" y1="2119.6" x2="995.0" y2="2110.2" stroke="#fff" stroke-width="2.5" stroke-linecap="round"/><line x1="1006.5" y1="2122.6" x2="1011.1" y2="2114.5" stroke="#fff" stroke-width="2.5" stroke-linecap="round"/><line x1="1014.9" y1="2131.0" x2="1023.0" y2="2126.3" stroke="#fff" stroke-width="2.5" stroke-linecap="round"/><path d="M1001.0 2134.5 Q1035.0 2122.5 1073.0 2110.5 L1075.0 2130.5 Q1035.0 2144.5 1001.0 2146.5Z" fill="#fff" stroke="#111" stroke-width="3.5"/><path d="M1005.0 2139.5 Q1037.0 2129.5 1074.0 2115.5" fill="none" stroke="#111" stroke-width="2.5"/><path d="M1005.0 2142.5 Q1037.0 2134.5 1074.0 2120.5" fill="none" stroke="#111" stroke-width="2.5"/><path d="M1005.0 2145.5 Q1037.0 2139.5 1074.0 2125.5" fill="none" stroke="#111" stroke-width="2.5"/><polygon points="995.0,2125.5 998.3,2134.6 1007.0,2130.5 1002.9,2139.2 1012.0,2142.5 1002.9,2145.8 1007.0,2154.5 998.3,2150.4 995.0,2159.5 991.7,2150.4 983.0,2154.5 987.1,2145.8 978.0,2142.5 987.1,2139.2 983.0,2130.5 991.7,2134.6" fill="#fff" stroke="#fff" stroke-width="6" stroke-linejoin="round"/><polygon points="995.0,2125.5 998.3,2134.6 1007.0,2130.5 1002.9,2139.2 1012.0,2142.5 1002.9,2145.8 1007.0,2154.5 998.3,2150.4 995.0,2159.5 991.7,2150.4 983.0,2154.5 987.1,2145.8 978.0,2142.5 987.1,2139.2 983.0,2130.5 991.7,2134.6" fill="#fff" stroke="#111" stroke-width="3.5" stroke-linejoin="round"/></g></svg>
</body></html>
